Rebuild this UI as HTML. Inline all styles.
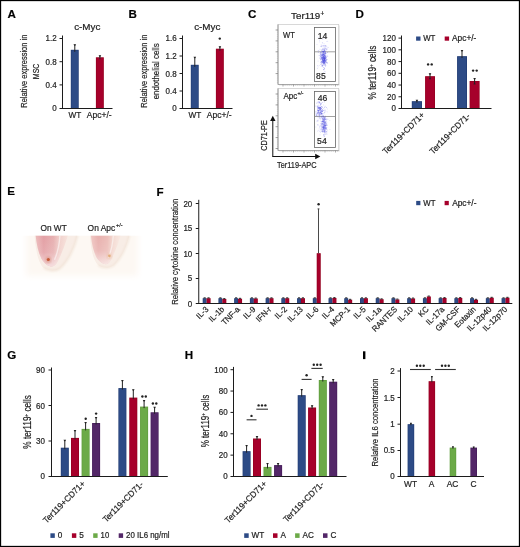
<!DOCTYPE html><html><head><meta charset="utf-8"><style>html,body{margin:0;padding:0;background:#fff;}svg{display:block;will-change:transform;}</style></head><body><svg width="520" height="547" viewBox="0 0 520 547" style="font-family:'Liberation Sans', sans-serif">
<style>text{stroke:#1e1e1e;stroke-width:0.2px;}</style>
<defs><linearGradient id="tube1" x1="0" y1="0" x2="1" y2="0"><stop offset="0" stop-color="#f6dcd8"/><stop offset="0.2" stop-color="#e8aaab"/><stop offset="0.45" stop-color="#e2a0a3"/><stop offset="0.7" stop-color="#f0cfcb"/><stop offset="1" stop-color="#fbefe9"/></linearGradient><linearGradient id="tube2" x1="0" y1="0" x2="1" y2="0"><stop offset="0" stop-color="#f8e2dc"/><stop offset="0.2" stop-color="#ecb7b4"/><stop offset="0.45" stop-color="#e9b2b0"/><stop offset="0.7" stop-color="#f3dad4"/><stop offset="1" stop-color="#fcf2ec"/></linearGradient><filter id="blur1"><feGaussianBlur stdDeviation="1.0"/></filter><filter id="blur2"><feGaussianBlur stdDeviation="3"/></filter><filter id="blur05"><feGaussianBlur stdDeviation="0.6"/></filter></defs>
<rect x="0" y="0" width="520" height="547" fill="#fff" />
<text x="11.6" y="18.1" font-size="11.6" text-anchor="middle" font-weight="bold" fill="#000" >A</text>
<text x="87.3" y="30.4" font-size="9.6" text-anchor="middle" fill="#1e1e1e" textLength="26.20" lengthAdjust="spacingAndGlyphs" >c-Myc</text>
<line x1="62.5" y1="35.5" x2="62.5" y2="109" stroke="#1c1c1c" stroke-width="1"/>
<line x1="59.5" y1="38.5" x2="62.5" y2="38.5" stroke="#1c1c1c" stroke-width="1"/>
<text x="56.6" y="41.4" font-size="8.6" text-anchor="end" fill="#1e1e1e" textLength="11.12" lengthAdjust="spacingAndGlyphs" >1.2</text>
<line x1="59.5" y1="61.7" x2="62.5" y2="61.7" stroke="#1c1c1c" stroke-width="1"/>
<text x="56.6" y="65.4" font-size="8.6" text-anchor="end" fill="#1e1e1e" textLength="11.12" lengthAdjust="spacingAndGlyphs" >0.8</text>
<line x1="59.5" y1="84.9" x2="62.5" y2="84.9" stroke="#1c1c1c" stroke-width="1"/>
<text x="56.6" y="88.4" font-size="8.6" text-anchor="end" fill="#1e1e1e" textLength="11.12" lengthAdjust="spacingAndGlyphs" >0.4</text>
<line x1="59.5" y1="108.5" x2="62.5" y2="108.5" stroke="#1c1c1c" stroke-width="1"/>
<text x="56.6" y="111.4" font-size="8.6" text-anchor="end" fill="#1e1e1e" textLength="4.45" lengthAdjust="spacingAndGlyphs" >0</text>
<line x1="62" y1="108.5" x2="112.5" y2="108.5" stroke="#1c1c1c" stroke-width="1"/>
<rect x="70.8" y="49.8" width="7.900000000000006" height="58.2" fill="#1f3a72" />
<rect x="71.39999999999999" y="50.4" width="6.7000000000000055" height="57.6" fill="#2d4b86" />
<rect x="95.9" y="57.3" width="7.8999999999999915" height="50.7" fill="#93001f" />
<rect x="96.5" y="57.9" width="6.699999999999991" height="50.1" fill="#a6002b" />
<line x1="74.8" y1="44.5" x2="74.8" y2="51.8" stroke="#222" stroke-width="1.0"/>
<polygon points="73.5,44.2 76.1,44.2 75.3,45.7 74.3,45.7" fill="#222"/>
<line x1="99.9" y1="55.6" x2="99.9" y2="59.3" stroke="#222" stroke-width="1.0"/>
<polygon points="98.60000000000001,55.300000000000004 101.2,55.300000000000004 100.4,56.800000000000004 99.4,56.800000000000004" fill="#222"/>
<text x="74.85" y="118" font-size="8.4" text-anchor="middle" fill="#1e1e1e" textLength="12.80" lengthAdjust="spacingAndGlyphs" >WT</text>
<text x="99.2" y="118" font-size="8.4" text-anchor="middle" fill="#1e1e1e" textLength="24.80" lengthAdjust="spacingAndGlyphs" >Apc+/-</text>
<text class="rt" transform="translate(27.2,71.2) rotate(-90)" x="0" y="0" font-size="9.2" text-anchor="middle" fill="#1e1e1e" textLength="73.00" lengthAdjust="spacingAndGlyphs">Relative expression in</text>
<text class="rt" transform="translate(39,71.4) rotate(-90)" x="0" y="0" font-size="9.2" text-anchor="middle" fill="#1e1e1e" textLength="15.60" lengthAdjust="spacingAndGlyphs">MSC</text>
<text x="132.6" y="18.1" font-size="11.6" text-anchor="middle" font-weight="bold" fill="#000" >B</text>
<text x="207.3" y="30.4" font-size="9.6" text-anchor="middle" fill="#1e1e1e" textLength="26.20" lengthAdjust="spacingAndGlyphs" >c-Myc</text>
<line x1="182.5" y1="35.5" x2="182.5" y2="109" stroke="#1c1c1c" stroke-width="1"/>
<line x1="179.5" y1="38.5" x2="182.5" y2="38.5" stroke="#1c1c1c" stroke-width="1"/>
<text x="176.6" y="41.4" font-size="8.6" text-anchor="end" fill="#1e1e1e" textLength="11.12" lengthAdjust="spacingAndGlyphs" >1.6</text>
<line x1="179.5" y1="56" x2="182.5" y2="56" stroke="#1c1c1c" stroke-width="1"/>
<text x="176.6" y="59.4" font-size="8.6" text-anchor="end" fill="#1e1e1e" textLength="11.12" lengthAdjust="spacingAndGlyphs" >1.2</text>
<line x1="179.5" y1="73.5" x2="182.5" y2="73.5" stroke="#1c1c1c" stroke-width="1"/>
<text x="176.6" y="77.4" font-size="8.6" text-anchor="end" fill="#1e1e1e" textLength="11.12" lengthAdjust="spacingAndGlyphs" >0.8</text>
<line x1="179.5" y1="91" x2="182.5" y2="91" stroke="#1c1c1c" stroke-width="1"/>
<text x="176.6" y="94.4" font-size="8.6" text-anchor="end" fill="#1e1e1e" textLength="11.12" lengthAdjust="spacingAndGlyphs" >0.4</text>
<line x1="179.5" y1="108.5" x2="182.5" y2="108.5" stroke="#1c1c1c" stroke-width="1"/>
<text x="176.6" y="111.4" font-size="8.6" text-anchor="end" fill="#1e1e1e" textLength="4.45" lengthAdjust="spacingAndGlyphs" >0</text>
<line x1="182" y1="108.5" x2="232.5" y2="108.5" stroke="#1c1c1c" stroke-width="1"/>
<rect x="190.8" y="64.8" width="7.899999999999977" height="43.2" fill="#1f3a72" />
<rect x="191.4" y="65.39999999999999" width="6.699999999999977" height="42.6" fill="#2d4b86" />
<rect x="215.9" y="48.7" width="7.900000000000006" height="59.3" fill="#93001f" />
<rect x="216.5" y="49.300000000000004" width="6.7000000000000055" height="58.699999999999996" fill="#a6002b" />
<line x1="194.8" y1="57.1" x2="194.8" y2="66.8" stroke="#222" stroke-width="1.0"/>
<polygon points="193.5,56.800000000000004 196.10000000000002,56.800000000000004 195.3,58.300000000000004 194.3,58.300000000000004" fill="#222"/>
<line x1="219.9" y1="46.6" x2="219.9" y2="50.7" stroke="#222" stroke-width="1.0"/>
<polygon points="218.6,46.300000000000004 221.20000000000002,46.300000000000004 220.4,47.800000000000004 219.4,47.800000000000004" fill="#222"/>
<text x="194.85" y="118" font-size="8.4" text-anchor="middle" fill="#1e1e1e" textLength="12.80" lengthAdjust="spacingAndGlyphs" >WT</text>
<text x="219.2" y="118" font-size="8.4" text-anchor="middle" fill="#1e1e1e" textLength="24.80" lengthAdjust="spacingAndGlyphs" >Apc+/-</text>
<text class="rt" transform="translate(147.2,71.2) rotate(-90)" x="0" y="0" font-size="9.2" text-anchor="middle" fill="#1e1e1e" textLength="73.00" lengthAdjust="spacingAndGlyphs">Relative expression in</text>
<text class="rt" transform="translate(159.2,71.3) rotate(-90)" x="0" y="0" font-size="9.2" text-anchor="middle" fill="#1e1e1e" textLength="56.00" lengthAdjust="spacingAndGlyphs">endothelial cells</text>
<circle cx="219.8" cy="38.6" r="1.2" fill="#222"/>
<text x="252.2" y="17.9" font-size="11.6" text-anchor="middle" font-weight="bold" fill="#000" >C</text>
<text x="291.1" y="18.7" font-size="9.6" fill="#1e1e1e" textLength="29.20" lengthAdjust="spacingAndGlyphs">Ter119</text>
<text x="322.4" y="15.8" font-size="6.4" text-anchor="middle" fill="#1e1e1e" >+</text>
<rect x="279" y="25.5" width="60.7" height="60.0" fill="#e6e6e6" />
<rect x="278" y="24.5" width="60.7" height="60.0" fill="#fff" stroke="#cfcfcf" stroke-width="0.8"/>
<line x1="278" y1="24.5" x2="278" y2="84.5" stroke="#888" stroke-width="0.8"/>
<line x1="278" y1="84.5" x2="338.7" y2="84.5" stroke="#999" stroke-width="0.8"/>
<line x1="275.6" y1="30.0" x2="278" y2="30.0" stroke="#777" stroke-width="0.7"/>
<line x1="276.9" y1="32.2" x2="278" y2="32.2" stroke="#aaa" stroke-width="0.5"/>
<line x1="276.9" y1="34.4" x2="278" y2="34.4" stroke="#aaa" stroke-width="0.5"/>
<line x1="276.9" y1="36.6" x2="278" y2="36.6" stroke="#aaa" stroke-width="0.5"/>
<line x1="276.9" y1="38.8" x2="278" y2="38.8" stroke="#aaa" stroke-width="0.5"/>
<line x1="275.6" y1="40.9" x2="278" y2="40.9" stroke="#777" stroke-width="0.7"/>
<line x1="276.9" y1="43.1" x2="278" y2="43.1" stroke="#aaa" stroke-width="0.5"/>
<line x1="276.9" y1="45.3" x2="278" y2="45.3" stroke="#aaa" stroke-width="0.5"/>
<line x1="276.9" y1="47.5" x2="278" y2="47.5" stroke="#aaa" stroke-width="0.5"/>
<line x1="276.9" y1="49.7" x2="278" y2="49.7" stroke="#aaa" stroke-width="0.5"/>
<line x1="275.6" y1="51.8" x2="278" y2="51.8" stroke="#777" stroke-width="0.7"/>
<line x1="276.9" y1="54.0" x2="278" y2="54.0" stroke="#aaa" stroke-width="0.5"/>
<line x1="276.9" y1="56.199999999999996" x2="278" y2="56.199999999999996" stroke="#aaa" stroke-width="0.5"/>
<line x1="276.9" y1="58.4" x2="278" y2="58.4" stroke="#aaa" stroke-width="0.5"/>
<line x1="276.9" y1="60.599999999999994" x2="278" y2="60.599999999999994" stroke="#aaa" stroke-width="0.5"/>
<line x1="275.6" y1="62.7" x2="278" y2="62.7" stroke="#777" stroke-width="0.7"/>
<line x1="276.9" y1="64.9" x2="278" y2="64.9" stroke="#aaa" stroke-width="0.5"/>
<line x1="276.9" y1="67.10000000000001" x2="278" y2="67.10000000000001" stroke="#aaa" stroke-width="0.5"/>
<line x1="276.9" y1="69.3" x2="278" y2="69.3" stroke="#aaa" stroke-width="0.5"/>
<line x1="276.9" y1="71.5" x2="278" y2="71.5" stroke="#aaa" stroke-width="0.5"/>
<line x1="275.6" y1="73.6" x2="278" y2="73.6" stroke="#777" stroke-width="0.7"/>
<line x1="276.9" y1="75.8" x2="278" y2="75.8" stroke="#aaa" stroke-width="0.5"/>
<line x1="276.9" y1="78.0" x2="278" y2="78.0" stroke="#aaa" stroke-width="0.5"/>
<line x1="276.9" y1="80.19999999999999" x2="278" y2="80.19999999999999" stroke="#aaa" stroke-width="0.5"/>
<line x1="276.9" y1="82.39999999999999" x2="278" y2="82.39999999999999" stroke="#aaa" stroke-width="0.5"/>
<line x1="283.0" y1="84.5" x2="283.0" y2="86.5" stroke="#777" stroke-width="0.6"/>
<line x1="285.1" y1="84.5" x2="285.1" y2="85.7" stroke="#aaa" stroke-width="0.5"/>
<line x1="287.2" y1="84.5" x2="287.2" y2="85.7" stroke="#aaa" stroke-width="0.5"/>
<line x1="289.3" y1="84.5" x2="289.3" y2="85.7" stroke="#aaa" stroke-width="0.5"/>
<line x1="291.4" y1="84.5" x2="291.4" y2="85.7" stroke="#aaa" stroke-width="0.5"/>
<line x1="293.5" y1="84.5" x2="293.5" y2="86.5" stroke="#777" stroke-width="0.6"/>
<line x1="295.6" y1="84.5" x2="295.6" y2="85.7" stroke="#aaa" stroke-width="0.5"/>
<line x1="297.7" y1="84.5" x2="297.7" y2="85.7" stroke="#aaa" stroke-width="0.5"/>
<line x1="299.8" y1="84.5" x2="299.8" y2="85.7" stroke="#aaa" stroke-width="0.5"/>
<line x1="301.9" y1="84.5" x2="301.9" y2="85.7" stroke="#aaa" stroke-width="0.5"/>
<line x1="304.0" y1="84.5" x2="304.0" y2="86.5" stroke="#777" stroke-width="0.6"/>
<line x1="306.1" y1="84.5" x2="306.1" y2="85.7" stroke="#aaa" stroke-width="0.5"/>
<line x1="308.2" y1="84.5" x2="308.2" y2="85.7" stroke="#aaa" stroke-width="0.5"/>
<line x1="310.3" y1="84.5" x2="310.3" y2="85.7" stroke="#aaa" stroke-width="0.5"/>
<line x1="312.4" y1="84.5" x2="312.4" y2="85.7" stroke="#aaa" stroke-width="0.5"/>
<line x1="314.5" y1="84.5" x2="314.5" y2="86.5" stroke="#777" stroke-width="0.6"/>
<line x1="316.6" y1="84.5" x2="316.6" y2="85.7" stroke="#aaa" stroke-width="0.5"/>
<line x1="318.7" y1="84.5" x2="318.7" y2="85.7" stroke="#aaa" stroke-width="0.5"/>
<line x1="320.8" y1="84.5" x2="320.8" y2="85.7" stroke="#aaa" stroke-width="0.5"/>
<line x1="322.9" y1="84.5" x2="322.9" y2="85.7" stroke="#aaa" stroke-width="0.5"/>
<line x1="325.0" y1="84.5" x2="325.0" y2="86.5" stroke="#777" stroke-width="0.6"/>
<line x1="327.1" y1="84.5" x2="327.1" y2="85.7" stroke="#aaa" stroke-width="0.5"/>
<line x1="329.2" y1="84.5" x2="329.2" y2="85.7" stroke="#aaa" stroke-width="0.5"/>
<line x1="331.3" y1="84.5" x2="331.3" y2="85.7" stroke="#aaa" stroke-width="0.5"/>
<line x1="333.4" y1="84.5" x2="333.4" y2="85.7" stroke="#aaa" stroke-width="0.5"/>
<line x1="335.5" y1="84.5" x2="335.5" y2="86.5" stroke="#777" stroke-width="0.6"/>
<line x1="337.6" y1="84.5" x2="337.6" y2="85.7" stroke="#aaa" stroke-width="0.5"/>
<rect x="314.5" y="27.5" width="21" height="54.0" fill="none" stroke="#666" stroke-width="0.8"/>
<line x1="314.5" y1="51.8" x2="335.5" y2="51.8" stroke="#8a8a8a" stroke-width="0.8"/>
<rect x="320.3" y="59.3" width="0.8" height="0.8" fill="#7a7af0" fill-opacity="0.3"/>
<rect x="322.2" y="54.8" width="0.8" height="0.8" fill="#7a7af0" fill-opacity="0.3"/>
<rect x="326.9" y="62.2" width="0.8" height="0.8" fill="#7a7af0" fill-opacity="0.3"/>
<rect x="322.3" y="59.1" width="0.8" height="0.8" fill="#7a7af0" fill-opacity="0.3"/>
<rect x="320.4" y="51.6" width="0.8" height="0.8" fill="#7a7af0" fill-opacity="0.3"/>
<rect x="317.1" y="68.1" width="0.8" height="0.8" fill="#7a7af0" fill-opacity="0.3"/>
<rect x="326.4" y="41.1" width="0.8" height="0.8" fill="#7a7af0" fill-opacity="0.3"/>
<rect x="317.8" y="37.4" width="0.8" height="0.8" fill="#7a7af0" fill-opacity="0.3"/>
<rect x="325.8" y="47.9" width="0.8" height="0.8" fill="#7a7af0" fill-opacity="0.3"/>
<rect x="322.1" y="49.2" width="0.8" height="0.8" fill="#7a7af0" fill-opacity="0.3"/>
<rect x="321.9" y="42.2" width="0.8" height="0.8" fill="#7a7af0" fill-opacity="0.3"/>
<rect x="322.4" y="39.1" width="0.8" height="0.8" fill="#7a7af0" fill-opacity="0.3"/>
<rect x="322.1" y="54.8" width="0.8" height="0.8" fill="#7a7af0" fill-opacity="0.3"/>
<rect x="323.7" y="49.9" width="0.8" height="0.8" fill="#7a7af0" fill-opacity="0.3"/>
<rect x="319.6" y="53.4" width="0.8" height="0.8" fill="#7a7af0" fill-opacity="0.3"/>
<rect x="320.8" y="66.1" width="0.8" height="0.8" fill="#7a7af0" fill-opacity="0.3"/>
<rect x="324.6" y="51.0" width="0.8" height="0.8" fill="#7a7af0" fill-opacity="0.3"/>
<rect x="320.9" y="45.7" width="0.8" height="0.8" fill="#7a7af0" fill-opacity="0.3"/>
<rect x="319.5" y="48.8" width="0.8" height="0.8" fill="#7a7af0" fill-opacity="0.3"/>
<rect x="323.2" y="56.6" width="0.8" height="0.8" fill="#7a7af0" fill-opacity="0.3"/>
<rect x="324.0" y="70.9" width="0.8" height="0.8" fill="#7a7af0" fill-opacity="0.3"/>
<rect x="320.2" y="52.1" width="0.8" height="0.8" fill="#7a7af0" fill-opacity="0.3"/>
<rect x="320.7" y="53.5" width="0.8" height="0.8" fill="#7a7af0" fill-opacity="0.3"/>
<rect x="322.8" y="55.7" width="0.8" height="0.8" fill="#7a7af0" fill-opacity="0.3"/>
<rect x="321.6" y="55.3" width="0.8" height="0.8" fill="#7a7af0" fill-opacity="0.3"/>
<rect x="322.5" y="58.9" width="0.8" height="0.8" fill="#7a7af0" fill-opacity="0.3"/>
<rect x="316.6" y="44.0" width="0.8" height="0.8" fill="#7a7af0" fill-opacity="0.3"/>
<rect x="322.3" y="42.7" width="0.8" height="0.8" fill="#7a7af0" fill-opacity="0.3"/>
<rect x="319.2" y="57.6" width="0.8" height="0.8" fill="#7a7af0" fill-opacity="0.3"/>
<rect x="320.4" y="57.7" width="0.8" height="0.8" fill="#7a7af0" fill-opacity="0.3"/>
<rect x="324.5" y="54.8" width="0.8" height="0.8" fill="#7a7af0" fill-opacity="0.3"/>
<rect x="323.8" y="51.1" width="0.8" height="0.8" fill="#7a7af0" fill-opacity="0.3"/>
<rect x="318.1" y="51.7" width="0.8" height="0.8" fill="#7a7af0" fill-opacity="0.3"/>
<rect x="323.7" y="47.2" width="0.8" height="0.8" fill="#7a7af0" fill-opacity="0.3"/>
<rect x="322.0" y="58.7" width="0.8" height="0.8" fill="#7a7af0" fill-opacity="0.3"/>
<rect x="319.7" y="57.8" width="0.8" height="0.8" fill="#7a7af0" fill-opacity="0.3"/>
<rect x="327.9" y="47.0" width="0.8" height="0.8" fill="#7a7af0" fill-opacity="0.3"/>
<rect x="322.7" y="50.6" width="0.8" height="0.8" fill="#7a7af0" fill-opacity="0.3"/>
<rect x="326.9" y="54.8" width="0.8" height="0.8" fill="#7a7af0" fill-opacity="0.3"/>
<rect x="325.0" y="45.8" width="0.8" height="0.8" fill="#7a7af0" fill-opacity="0.3"/>
<rect x="322.3" y="51.9" width="0.8" height="0.8" fill="#7a7af0" fill-opacity="0.3"/>
<rect x="317.0" y="65.0" width="0.8" height="0.8" fill="#7a7af0" fill-opacity="0.3"/>
<rect x="325.0" y="36.3" width="0.8" height="0.8" fill="#7a7af0" fill-opacity="0.3"/>
<rect x="324.5" y="50.8" width="0.8" height="0.8" fill="#7a7af0" fill-opacity="0.3"/>
<rect x="323.6" y="55.3" width="0.8" height="0.8" fill="#7a7af0" fill-opacity="0.3"/>
<rect x="317.8" y="50.1" width="0.8" height="0.8" fill="#7a7af0" fill-opacity="0.3"/>
<rect x="326.8" y="46.8" width="0.8" height="0.8" fill="#7a7af0" fill-opacity="0.3"/>
<rect x="319.2" y="39.8" width="0.8" height="0.8" fill="#7a7af0" fill-opacity="0.3"/>
<rect x="318.6" y="55.0" width="0.8" height="0.8" fill="#7a7af0" fill-opacity="0.3"/>
<rect x="327.4" y="55.9" width="0.8" height="0.8" fill="#7a7af0" fill-opacity="0.3"/>
<rect x="323.0" y="72.1" width="0.8" height="0.8" fill="#7a7af0" fill-opacity="0.3"/>
<rect x="320.7" y="45.9" width="0.8" height="0.8" fill="#7a7af0" fill-opacity="0.3"/>
<rect x="323.9" y="56.9" width="0.8" height="0.8" fill="#7a7af0" fill-opacity="0.3"/>
<rect x="319.3" y="41.5" width="0.8" height="0.8" fill="#7a7af0" fill-opacity="0.3"/>
<rect x="323.2" y="54.2" width="0.8" height="0.8" fill="#7a7af0" fill-opacity="0.3"/>
<rect x="318.4" y="50.2" width="0.8" height="0.8" fill="#7a7af0" fill-opacity="0.3"/>
<rect x="320.7" y="56.1" width="0.8" height="0.8" fill="#7a7af0" fill-opacity="0.3"/>
<rect x="321.9" y="51.2" width="0.8" height="0.8" fill="#7a7af0" fill-opacity="0.3"/>
<rect x="321.2" y="61.5" width="0.8" height="0.8" fill="#7a7af0" fill-opacity="0.3"/>
<rect x="326.5" y="48.7" width="0.8" height="0.8" fill="#7a7af0" fill-opacity="0.3"/>
<rect x="324.8" y="45.2" width="0.8" height="0.8" fill="#7a7af0" fill-opacity="0.3"/>
<rect x="322.5" y="58.7" width="0.8" height="0.8" fill="#7a7af0" fill-opacity="0.3"/>
<rect x="326.8" y="48.6" width="0.8" height="0.8" fill="#7a7af0" fill-opacity="0.3"/>
<rect x="322.1" y="53.8" width="0.8" height="0.8" fill="#7a7af0" fill-opacity="0.3"/>
<rect x="317.8" y="52.1" width="0.8" height="0.8" fill="#7a7af0" fill-opacity="0.3"/>
<rect x="320.3" y="55.3" width="0.8" height="0.8" fill="#7a7af0" fill-opacity="0.3"/>
<rect x="322.4" y="54.3" width="0.8" height="0.8" fill="#7a7af0" fill-opacity="0.3"/>
<rect x="320.7" y="60.0" width="0.8" height="0.8" fill="#7a7af0" fill-opacity="0.3"/>
<rect x="321.5" y="46.5" width="0.8" height="0.8" fill="#7a7af0" fill-opacity="0.3"/>
<rect x="323.7" y="37.9" width="0.8" height="0.8" fill="#7a7af0" fill-opacity="0.3"/>
<rect x="320.3" y="51.8" width="0.8" height="0.8" fill="#7a7af0" fill-opacity="0.3"/>
<rect x="324.8" y="50.5" width="0.8" height="0.8" fill="#7a7af0" fill-opacity="0.3"/>
<rect x="323.2" y="46.1" width="0.8" height="0.8" fill="#7a7af0" fill-opacity="0.3"/>
<rect x="323.2" y="67.0" width="0.8" height="0.8" fill="#7a7af0" fill-opacity="0.3"/>
<rect x="320.4" y="52.2" width="0.8" height="0.8" fill="#7a7af0" fill-opacity="0.3"/>
<rect x="322.8" y="61.2" width="0.8" height="0.8" fill="#7a7af0" fill-opacity="0.3"/>
<rect x="324.1" y="59.2" width="0.8" height="0.8" fill="#7a7af0" fill-opacity="0.3"/>
<rect x="322.9" y="54.3" width="0.8" height="0.8" fill="#7a7af0" fill-opacity="0.3"/>
<rect x="325.1" y="55.3" width="0.8" height="0.8" fill="#7a7af0" fill-opacity="0.3"/>
<rect x="327.3" y="40.9" width="0.8" height="0.8" fill="#7a7af0" fill-opacity="0.3"/>
<rect x="324.7" y="48.6" width="0.8" height="0.8" fill="#7a7af0" fill-opacity="0.3"/>
<rect x="325.1" y="71.4" width="0.8" height="0.8" fill="#7a7af0" fill-opacity="0.3"/>
<rect x="322.3" y="49.7" width="0.8" height="0.8" fill="#7a7af0" fill-opacity="0.3"/>
<rect x="320.8" y="44.5" width="0.8" height="0.8" fill="#7a7af0" fill-opacity="0.3"/>
<rect x="320.4" y="57.8" width="0.8" height="0.8" fill="#7a7af0" fill-opacity="0.3"/>
<rect x="322.4" y="52.6" width="0.8" height="0.8" fill="#7a7af0" fill-opacity="0.3"/>
<rect x="321.8" y="60.2" width="0.8" height="0.8" fill="#7a7af0" fill-opacity="0.3"/>
<rect x="323.8" y="50.7" width="0.8" height="0.8" fill="#7a7af0" fill-opacity="0.3"/>
<rect x="324.3" y="50.6" width="0.8" height="0.8" fill="#7a7af0" fill-opacity="0.3"/>
<rect x="318.8" y="65.1" width="0.8" height="0.8" fill="#7a7af0" fill-opacity="0.3"/>
<rect x="323.7" y="43.4" width="0.8" height="0.8" fill="#7a7af0" fill-opacity="0.3"/>
<rect x="325.5" y="55.1" width="0.8" height="0.8" fill="#7a7af0" fill-opacity="0.3"/>
<rect x="317.6" y="66.5" width="0.8" height="0.8" fill="#7a7af0" fill-opacity="0.3"/>
<rect x="323.3" y="60.0" width="0.8" height="0.8" fill="#7a7af0" fill-opacity="0.3"/>
<rect x="322.9" y="50.7" width="0.8" height="0.8" fill="#7a7af0" fill-opacity="0.3"/>
<rect x="317.7" y="60.7" width="0.8" height="0.8" fill="#7a7af0" fill-opacity="0.3"/>
<rect x="322.4" y="49.4" width="0.8" height="0.8" fill="#7a7af0" fill-opacity="0.3"/>
<rect x="323.4" y="52.7" width="0.8" height="0.8" fill="#7a7af0" fill-opacity="0.3"/>
<rect x="324.3" y="48.7" width="0.8" height="0.8" fill="#7a7af0" fill-opacity="0.3"/>
<rect x="321.0" y="58.1" width="0.8" height="0.8" fill="#7a7af0" fill-opacity="0.3"/>
<rect x="326.3" y="48.7" width="0.8" height="0.8" fill="#7a7af0" fill-opacity="0.3"/>
<rect x="321.9" y="66.3" width="0.8" height="0.8" fill="#7a7af0" fill-opacity="0.3"/>
<rect x="322.9" y="59.9" width="0.8" height="0.8" fill="#4848e0" fill-opacity="0.4"/>
<rect x="323.0" y="56.1" width="0.8" height="0.8" fill="#4848e0" fill-opacity="0.4"/>
<rect x="322.0" y="56.5" width="0.8" height="0.8" fill="#4848e0" fill-opacity="0.4"/>
<rect x="324.9" y="59.5" width="0.8" height="0.8" fill="#4848e0" fill-opacity="0.4"/>
<rect x="324.8" y="58.6" width="0.8" height="0.8" fill="#4848e0" fill-opacity="0.4"/>
<rect x="323.9" y="58.4" width="0.8" height="0.8" fill="#4848e0" fill-opacity="0.4"/>
<rect x="321.0" y="61.4" width="0.8" height="0.8" fill="#4848e0" fill-opacity="0.4"/>
<rect x="324.0" y="59.8" width="0.8" height="0.8" fill="#4848e0" fill-opacity="0.4"/>
<rect x="320.9" y="49.5" width="0.8" height="0.8" fill="#4848e0" fill-opacity="0.4"/>
<rect x="322.1" y="55.3" width="0.8" height="0.8" fill="#4848e0" fill-opacity="0.4"/>
<rect x="323.7" y="57.3" width="0.8" height="0.8" fill="#4848e0" fill-opacity="0.4"/>
<rect x="324.0" y="54.5" width="0.8" height="0.8" fill="#4848e0" fill-opacity="0.4"/>
<rect x="323.7" y="59.3" width="0.8" height="0.8" fill="#4848e0" fill-opacity="0.4"/>
<rect x="322.4" y="65.4" width="0.8" height="0.8" fill="#4848e0" fill-opacity="0.4"/>
<rect x="324.1" y="63.0" width="0.8" height="0.8" fill="#4848e0" fill-opacity="0.4"/>
<rect x="322.4" y="54.1" width="0.8" height="0.8" fill="#4848e0" fill-opacity="0.4"/>
<rect x="322.8" y="57.0" width="0.8" height="0.8" fill="#4848e0" fill-opacity="0.4"/>
<rect x="324.2" y="58.6" width="0.8" height="0.8" fill="#4848e0" fill-opacity="0.4"/>
<rect x="322.7" y="53.1" width="0.8" height="0.8" fill="#4848e0" fill-opacity="0.4"/>
<rect x="322.6" y="63.1" width="0.8" height="0.8" fill="#4848e0" fill-opacity="0.4"/>
<rect x="322.2" y="58.6" width="0.8" height="0.8" fill="#4848e0" fill-opacity="0.4"/>
<rect x="323.9" y="50.6" width="0.8" height="0.8" fill="#4848e0" fill-opacity="0.4"/>
<rect x="323.4" y="63.5" width="0.8" height="0.8" fill="#4848e0" fill-opacity="0.4"/>
<rect x="320.5" y="56.0" width="0.8" height="0.8" fill="#4848e0" fill-opacity="0.4"/>
<rect x="323.2" y="53.7" width="0.8" height="0.8" fill="#4848e0" fill-opacity="0.4"/>
<rect x="324.0" y="57.2" width="0.8" height="0.8" fill="#4848e0" fill-opacity="0.4"/>
<rect x="321.2" y="61.3" width="0.8" height="0.8" fill="#4848e0" fill-opacity="0.4"/>
<rect x="324.2" y="61.9" width="0.8" height="0.8" fill="#4848e0" fill-opacity="0.4"/>
<rect x="325.3" y="59.2" width="0.8" height="0.8" fill="#4848e0" fill-opacity="0.4"/>
<rect x="323.5" y="51.5" width="0.8" height="0.8" fill="#4848e0" fill-opacity="0.4"/>
<rect x="324.2" y="54.7" width="0.8" height="0.8" fill="#4848e0" fill-opacity="0.4"/>
<rect x="322.7" y="51.7" width="0.8" height="0.8" fill="#4848e0" fill-opacity="0.4"/>
<rect x="321.9" y="55.1" width="0.8" height="0.8" fill="#4848e0" fill-opacity="0.4"/>
<rect x="325.1" y="48.2" width="0.8" height="0.8" fill="#4848e0" fill-opacity="0.4"/>
<rect x="321.3" y="58.6" width="0.8" height="0.8" fill="#4848e0" fill-opacity="0.4"/>
<rect x="325.3" y="60.2" width="0.8" height="0.8" fill="#4848e0" fill-opacity="0.4"/>
<rect x="320.6" y="45.9" width="0.8" height="0.8" fill="#4848e0" fill-opacity="0.4"/>
<rect x="323.8" y="54.1" width="0.8" height="0.8" fill="#4848e0" fill-opacity="0.4"/>
<rect x="321.7" y="62.0" width="0.8" height="0.8" fill="#4848e0" fill-opacity="0.4"/>
<rect x="324.8" y="58.2" width="0.8" height="0.8" fill="#4848e0" fill-opacity="0.4"/>
<rect x="323.6" y="59.5" width="0.8" height="0.8" fill="#4848e0" fill-opacity="0.4"/>
<rect x="325.5" y="60.3" width="0.8" height="0.8" fill="#4848e0" fill-opacity="0.4"/>
<rect x="324.0" y="60.0" width="0.8" height="0.8" fill="#4848e0" fill-opacity="0.4"/>
<rect x="321.1" y="63.4" width="0.8" height="0.8" fill="#4848e0" fill-opacity="0.4"/>
<rect x="324.6" y="59.9" width="0.8" height="0.8" fill="#4848e0" fill-opacity="0.4"/>
<rect x="320.5" y="54.6" width="0.8" height="0.8" fill="#4848e0" fill-opacity="0.4"/>
<rect x="324.5" y="49.2" width="0.8" height="0.8" fill="#4848e0" fill-opacity="0.4"/>
<rect x="323.0" y="62.2" width="0.8" height="0.8" fill="#4848e0" fill-opacity="0.4"/>
<rect x="321.5" y="64.9" width="0.8" height="0.8" fill="#4848e0" fill-opacity="0.4"/>
<rect x="324.1" y="56.8" width="0.8" height="0.8" fill="#4848e0" fill-opacity="0.4"/>
<rect x="323.8" y="60.5" width="0.8" height="0.8" fill="#4848e0" fill-opacity="0.4"/>
<rect x="323.5" y="62.8" width="0.8" height="0.8" fill="#4848e0" fill-opacity="0.4"/>
<rect x="322.4" y="55.6" width="0.8" height="0.8" fill="#4848e0" fill-opacity="0.4"/>
<rect x="324.8" y="57.6" width="0.8" height="0.8" fill="#4848e0" fill-opacity="0.4"/>
<rect x="322.1" y="61.9" width="0.8" height="0.8" fill="#4848e0" fill-opacity="0.4"/>
<rect x="325.4" y="55.5" width="0.8" height="0.8" fill="#4848e0" fill-opacity="0.4"/>
<rect x="321.4" y="56.9" width="0.8" height="0.8" fill="#4848e0" fill-opacity="0.4"/>
<rect x="323.1" y="56.1" width="0.8" height="0.8" fill="#4848e0" fill-opacity="0.4"/>
<rect x="325.3" y="52.8" width="0.8" height="0.8" fill="#4848e0" fill-opacity="0.4"/>
<rect x="325.1" y="51.7" width="0.8" height="0.8" fill="#4848e0" fill-opacity="0.4"/>
<rect x="322.2" y="60.4" width="0.8" height="0.8" fill="#4848e0" fill-opacity="0.4"/>
<rect x="324.9" y="61.5" width="0.8" height="0.8" fill="#4848e0" fill-opacity="0.4"/>
<rect x="323.8" y="58.2" width="0.8" height="0.8" fill="#4848e0" fill-opacity="0.4"/>
<rect x="323.5" y="60.1" width="0.8" height="0.8" fill="#4848e0" fill-opacity="0.4"/>
<rect x="323.1" y="58.8" width="0.8" height="0.8" fill="#4848e0" fill-opacity="0.4"/>
<rect x="324.1" y="57.5" width="0.8" height="0.8" fill="#4848e0" fill-opacity="0.4"/>
<rect x="324.4" y="60.1" width="0.8" height="0.8" fill="#4848e0" fill-opacity="0.4"/>
<rect x="326.1" y="59.0" width="0.8" height="0.8" fill="#4848e0" fill-opacity="0.4"/>
<rect x="322.7" y="55.8" width="0.8" height="0.8" fill="#4848e0" fill-opacity="0.4"/>
<rect x="323.3" y="61.7" width="0.8" height="0.8" fill="#4848e0" fill-opacity="0.4"/>
<rect x="322.8" y="59.3" width="0.8" height="0.8" fill="#4848e0" fill-opacity="0.4"/>
<rect x="325.9" y="45.7" width="0.8" height="0.8" fill="#4848e0" fill-opacity="0.4"/>
<rect x="321.7" y="58.6" width="0.8" height="0.8" fill="#4848e0" fill-opacity="0.4"/>
<rect x="323.9" y="58.6" width="0.8" height="0.8" fill="#4848e0" fill-opacity="0.4"/>
<rect x="322.7" y="60.5" width="0.8" height="0.8" fill="#4848e0" fill-opacity="0.4"/>
<rect x="323.7" y="55.1" width="0.8" height="0.8" fill="#4848e0" fill-opacity="0.4"/>
<rect x="326.7" y="59.1" width="0.8" height="0.8" fill="#4848e0" fill-opacity="0.4"/>
<rect x="322.5" y="57.0" width="0.8" height="0.8" fill="#4848e0" fill-opacity="0.4"/>
<rect x="323.0" y="57.2" width="0.8" height="0.8" fill="#4848e0" fill-opacity="0.4"/>
<rect x="319.5" y="55.3" width="0.8" height="0.8" fill="#4848e0" fill-opacity="0.4"/>
<rect x="324.7" y="52.1" width="0.8" height="0.8" fill="#4848e0" fill-opacity="0.4"/>
<rect x="323.2" y="61.9" width="0.8" height="0.8" fill="#4848e0" fill-opacity="0.4"/>
<rect x="324.5" y="64.4" width="0.8" height="0.8" fill="#4848e0" fill-opacity="0.4"/>
<rect x="320.9" y="55.9" width="0.8" height="0.8" fill="#4848e0" fill-opacity="0.4"/>
<rect x="322.8" y="60.4" width="0.8" height="0.8" fill="#4848e0" fill-opacity="0.4"/>
<rect x="324.8" y="45.2" width="0.8" height="0.8" fill="#4848e0" fill-opacity="0.4"/>
<rect x="324.8" y="50.8" width="0.8" height="0.8" fill="#4848e0" fill-opacity="0.4"/>
<rect x="324.3" y="50.6" width="0.8" height="0.8" fill="#4848e0" fill-opacity="0.4"/>
<rect x="323.5" y="63.0" width="0.8" height="0.8" fill="#4848e0" fill-opacity="0.4"/>
<rect x="323.1" y="58.4" width="0.8" height="0.8" fill="#4848e0" fill-opacity="0.4"/>
<rect x="324.4" y="58.2" width="0.8" height="0.8" fill="#4848e0" fill-opacity="0.4"/>
<rect x="323.2" y="64.6" width="0.8" height="0.8" fill="#4848e0" fill-opacity="0.4"/>
<rect x="324.8" y="56.1" width="0.8" height="0.8" fill="#4848e0" fill-opacity="0.4"/>
<rect x="327.1" y="52.2" width="0.8" height="0.8" fill="#4848e0" fill-opacity="0.4"/>
<rect x="324.6" y="56.3" width="0.8" height="0.8" fill="#4848e0" fill-opacity="0.4"/>
<rect x="323.5" y="60.7" width="0.8" height="0.8" fill="#4848e0" fill-opacity="0.4"/>
<rect x="323.6" y="60.4" width="0.8" height="0.8" fill="#4848e0" fill-opacity="0.4"/>
<rect x="321.2" y="50.6" width="0.8" height="0.8" fill="#4848e0" fill-opacity="0.4"/>
<rect x="324.2" y="53.1" width="0.8" height="0.8" fill="#4848e0" fill-opacity="0.4"/>
<rect x="321.9" y="50.7" width="0.8" height="0.8" fill="#4848e0" fill-opacity="0.4"/>
<rect x="325.1" y="60.9" width="0.8" height="0.8" fill="#4848e0" fill-opacity="0.4"/>
<rect x="325.4" y="53.2" width="0.8" height="0.8" fill="#4848e0" fill-opacity="0.4"/>
<rect x="323.3" y="52.3" width="0.8" height="0.8" fill="#4848e0" fill-opacity="0.4"/>
<rect x="324.4" y="64.8" width="0.8" height="0.8" fill="#4848e0" fill-opacity="0.4"/>
<rect x="322.1" y="64.7" width="0.8" height="0.8" fill="#4848e0" fill-opacity="0.4"/>
<rect x="324.7" y="56.7" width="0.8" height="0.8" fill="#4848e0" fill-opacity="0.4"/>
<rect x="320.5" y="64.0" width="0.8" height="0.8" fill="#4848e0" fill-opacity="0.4"/>
<rect x="323.2" y="54.7" width="0.8" height="0.8" fill="#4848e0" fill-opacity="0.4"/>
<rect x="323.9" y="59.4" width="0.8" height="0.8" fill="#4848e0" fill-opacity="0.4"/>
<rect x="325.4" y="52.8" width="0.8" height="0.8" fill="#4848e0" fill-opacity="0.4"/>
<rect x="324.9" y="64.3" width="0.8" height="0.8" fill="#4848e0" fill-opacity="0.4"/>
<rect x="325.3" y="56.7" width="0.8" height="0.8" fill="#4848e0" fill-opacity="0.4"/>
<rect x="322.3" y="62.2" width="0.8" height="0.8" fill="#4848e0" fill-opacity="0.4"/>
<rect x="323.5" y="58.1" width="0.8" height="0.8" fill="#4848e0" fill-opacity="0.4"/>
<rect x="325.3" y="56.3" width="0.8" height="0.8" fill="#4848e0" fill-opacity="0.4"/>
<rect x="320.1" y="55.7" width="0.8" height="0.8" fill="#4848e0" fill-opacity="0.4"/>
<rect x="320.7" y="61.3" width="0.8" height="0.8" fill="#4848e0" fill-opacity="0.4"/>
<rect x="323.7" y="54.7" width="0.8" height="0.8" fill="#4848e0" fill-opacity="0.4"/>
<rect x="323.3" y="61.3" width="0.8" height="0.8" fill="#4848e0" fill-opacity="0.4"/>
<rect x="323.4" y="63.6" width="0.8" height="0.8" fill="#4848e0" fill-opacity="0.4"/>
<rect x="323.2" y="62.3" width="0.8" height="0.8" fill="#4848e0" fill-opacity="0.4"/>
<rect x="325.4" y="64.9" width="0.8" height="0.8" fill="#4848e0" fill-opacity="0.4"/>
<rect x="322.4" y="61.5" width="0.8" height="0.8" fill="#4848e0" fill-opacity="0.4"/>
<rect x="320.7" y="52.5" width="0.8" height="0.8" fill="#4848e0" fill-opacity="0.4"/>
<rect x="320.6" y="62.4" width="0.8" height="0.8" fill="#4848e0" fill-opacity="0.4"/>
<rect x="321.6" y="57.4" width="0.8" height="0.8" fill="#4848e0" fill-opacity="0.4"/>
<rect x="323.0" y="57.4" width="0.8" height="0.8" fill="#4848e0" fill-opacity="0.4"/>
<rect x="322.5" y="58.6" width="0.8" height="0.8" fill="#4848e0" fill-opacity="0.4"/>
<rect x="325.8" y="57.7" width="0.8" height="0.8" fill="#4848e0" fill-opacity="0.4"/>
<rect x="324.0" y="62.1" width="0.8" height="0.8" fill="#4848e0" fill-opacity="0.4"/>
<rect x="323.0" y="51.7" width="0.8" height="0.8" fill="#4848e0" fill-opacity="0.4"/>
<rect x="322.5" y="62.4" width="0.8" height="0.8" fill="#4848e0" fill-opacity="0.4"/>
<rect x="321.0" y="54.7" width="0.8" height="0.8" fill="#4848e0" fill-opacity="0.4"/>
<rect x="324.7" y="61.1" width="0.8" height="0.8" fill="#4848e0" fill-opacity="0.4"/>
<rect x="323.3" y="61.2" width="0.8" height="0.8" fill="#4848e0" fill-opacity="0.4"/>
<rect x="323.5" y="52.1" width="0.8" height="0.8" fill="#4848e0" fill-opacity="0.4"/>
<rect x="321.1" y="54.6" width="0.8" height="0.8" fill="#4848e0" fill-opacity="0.4"/>
<rect x="324.6" y="54.9" width="0.8" height="0.8" fill="#4848e0" fill-opacity="0.4"/>
<rect x="322.0" y="54.0" width="0.8" height="0.8" fill="#4848e0" fill-opacity="0.4"/>
<rect x="321.2" y="57.0" width="0.8" height="0.8" fill="#4848e0" fill-opacity="0.4"/>
<rect x="321.6" y="59.2" width="0.8" height="0.8" fill="#4848e0" fill-opacity="0.4"/>
<rect x="320.0" y="59.0" width="0.8" height="0.8" fill="#4848e0" fill-opacity="0.4"/>
<rect x="322.4" y="48.6" width="0.8" height="0.8" fill="#4848e0" fill-opacity="0.4"/>
<rect x="324.3" y="56.2" width="0.8" height="0.8" fill="#4848e0" fill-opacity="0.4"/>
<rect x="320.2" y="53.5" width="0.8" height="0.8" fill="#4848e0" fill-opacity="0.4"/>
<rect x="323.7" y="55.4" width="0.8" height="0.8" fill="#4848e0" fill-opacity="0.4"/>
<rect x="324.4" y="60.9" width="0.8" height="0.8" fill="#4848e0" fill-opacity="0.4"/>
<rect x="324.2" y="59.0" width="0.8" height="0.8" fill="#4848e0" fill-opacity="0.4"/>
<rect x="325.2" y="60.5" width="0.8" height="0.8" fill="#4848e0" fill-opacity="0.4"/>
<rect x="323.9" y="47.9" width="0.8" height="0.8" fill="#4848e0" fill-opacity="0.4"/>
<rect x="324.6" y="63.5" width="0.8" height="0.8" fill="#4848e0" fill-opacity="0.4"/>
<rect x="322.9" y="55.3" width="0.8" height="0.8" fill="#4848e0" fill-opacity="0.4"/>
<rect x="326.0" y="49.4" width="0.8" height="0.8" fill="#4848e0" fill-opacity="0.4"/>
<rect x="324.0" y="68.6" width="0.8" height="0.8" fill="#4848e0" fill-opacity="0.4"/>
<rect x="322.0" y="60.7" width="0.8" height="0.8" fill="#4848e0" fill-opacity="0.4"/>
<rect x="325.9" y="56.9" width="0.8" height="0.8" fill="#4848e0" fill-opacity="0.4"/>
<rect x="324.1" y="61.7" width="0.8" height="0.8" fill="#4848e0" fill-opacity="0.4"/>
<rect x="322.0" y="57.1" width="0.8" height="0.8" fill="#4848e0" fill-opacity="0.4"/>
<rect x="323.7" y="61.3" width="0.8" height="0.8" fill="#4848e0" fill-opacity="0.4"/>
<rect x="323.3" y="56.6" width="0.8" height="0.8" fill="#4848e0" fill-opacity="0.4"/>
<rect x="321.9" y="55.8" width="0.8" height="0.8" fill="#4848e0" fill-opacity="0.4"/>
<rect x="324.5" y="58.0" width="0.8" height="0.8" fill="#4848e0" fill-opacity="0.4"/>
<rect x="322.1" y="53.6" width="0.8" height="0.8" fill="#4848e0" fill-opacity="0.4"/>
<rect x="327.0" y="62.7" width="0.8" height="0.8" fill="#4848e0" fill-opacity="0.4"/>
<rect x="324.2" y="45.6" width="0.8" height="0.8" fill="#4848e0" fill-opacity="0.4"/>
<rect x="324.2" y="59.7" width="0.8" height="0.8" fill="#4848e0" fill-opacity="0.4"/>
<rect x="325.7" y="59.5" width="0.8" height="0.8" fill="#4848e0" fill-opacity="0.4"/>
<rect x="323.2" y="59.9" width="0.8" height="0.8" fill="#4848e0" fill-opacity="0.4"/>
<rect x="320.6" y="62.3" width="0.8" height="0.8" fill="#4848e0" fill-opacity="0.4"/>
<rect x="323.8" y="54.3" width="0.8" height="0.8" fill="#4848e0" fill-opacity="0.4"/>
<rect x="325.2" y="65.8" width="0.8" height="0.8" fill="#4848e0" fill-opacity="0.4"/>
<rect x="321.3" y="54.4" width="0.8" height="0.8" fill="#4848e0" fill-opacity="0.4"/>
<rect x="323.7" y="58.3" width="0.8" height="0.8" fill="#4848e0" fill-opacity="0.4"/>
<rect x="322.7" y="53.0" width="0.8" height="0.8" fill="#4848e0" fill-opacity="0.4"/>
<rect x="326.3" y="62.3" width="0.8" height="0.8" fill="#4848e0" fill-opacity="0.4"/>
<rect x="321.6" y="51.3" width="0.8" height="0.8" fill="#4848e0" fill-opacity="0.4"/>
<rect x="325.7" y="62.1" width="0.8" height="0.8" fill="#4848e0" fill-opacity="0.4"/>
<rect x="325.8" y="61.2" width="0.8" height="0.8" fill="#4848e0" fill-opacity="0.4"/>
<rect x="322.1" y="58.7" width="0.8" height="0.8" fill="#4848e0" fill-opacity="0.4"/>
<rect x="320.3" y="54.1" width="0.8" height="0.8" fill="#4848e0" fill-opacity="0.4"/>
<rect x="323.2" y="59.9" width="0.8" height="0.8" fill="#4848e0" fill-opacity="0.4"/>
<rect x="322.3" y="56.9" width="0.8" height="0.8" fill="#4848e0" fill-opacity="0.4"/>
<rect x="323.9" y="59.2" width="0.8" height="0.8" fill="#4848e0" fill-opacity="0.4"/>
<rect x="324.2" y="58.5" width="0.8" height="0.8" fill="#4848e0" fill-opacity="0.4"/>
<rect x="322.8" y="61.1" width="0.8" height="0.8" fill="#4848e0" fill-opacity="0.4"/>
<rect x="323.4" y="53.7" width="0.8" height="0.8" fill="#4848e0" fill-opacity="0.4"/>
<rect x="322.4" y="57.5" width="0.8" height="0.8" fill="#4848e0" fill-opacity="0.4"/>
<rect x="323.1" y="58.2" width="0.8" height="0.8" fill="#4848e0" fill-opacity="0.4"/>
<rect x="323.3" y="58.3" width="0.8" height="0.8" fill="#4848e0" fill-opacity="0.4"/>
<rect x="323.1" y="51.7" width="0.8" height="0.8" fill="#4848e0" fill-opacity="0.4"/>
<rect x="323.9" y="62.3" width="0.8" height="0.8" fill="#4848e0" fill-opacity="0.4"/>
<rect x="323.9" y="56.6" width="0.8" height="0.8" fill="#4848e0" fill-opacity="0.4"/>
<rect x="323.9" y="53.1" width="0.8" height="0.8" fill="#4848e0" fill-opacity="0.4"/>
<rect x="320.6" y="57.8" width="0.8" height="0.8" fill="#4848e0" fill-opacity="0.4"/>
<rect x="322.0" y="60.9" width="0.8" height="0.8" fill="#4848e0" fill-opacity="0.4"/>
<rect x="321.8" y="45.4" width="0.8" height="0.8" fill="#4848e0" fill-opacity="0.4"/>
<rect x="321.8" y="64.8" width="0.8" height="0.8" fill="#4848e0" fill-opacity="0.4"/>
<rect x="322.8" y="51.2" width="0.8" height="0.8" fill="#4848e0" fill-opacity="0.4"/>
<rect x="322.2" y="59.9" width="0.8" height="0.8" fill="#4848e0" fill-opacity="0.4"/>
<rect x="324.0" y="58.3" width="0.8" height="0.8" fill="#4848e0" fill-opacity="0.4"/>
<rect x="325.4" y="60.7" width="0.8" height="0.8" fill="#4848e0" fill-opacity="0.4"/>
<rect x="323.3" y="60.2" width="0.8" height="0.8" fill="#4848e0" fill-opacity="0.4"/>
<rect x="325.6" y="62.0" width="0.8" height="0.8" fill="#4848e0" fill-opacity="0.4"/>
<rect x="324.7" y="52.5" width="0.8" height="0.8" fill="#4848e0" fill-opacity="0.4"/>
<rect x="323.1" y="60.9" width="0.8" height="0.8" fill="#4848e0" fill-opacity="0.4"/>
<rect x="322.9" y="62.4" width="0.8" height="0.8" fill="#4848e0" fill-opacity="0.4"/>
<rect x="324.1" y="61.7" width="0.8" height="0.8" fill="#4848e0" fill-opacity="0.4"/>
<rect x="323.0" y="69.2" width="0.8" height="0.8" fill="#4848e0" fill-opacity="0.4"/>
<rect x="325.0" y="56.5" width="0.8" height="0.8" fill="#4848e0" fill-opacity="0.4"/>
<rect x="323.4" y="69.4" width="0.8" height="0.8" fill="#4848e0" fill-opacity="0.4"/>
<rect x="322.8" y="61.5" width="0.8" height="0.8" fill="#4848e0" fill-opacity="0.4"/>
<rect x="324.7" y="57.5" width="0.8" height="0.8" fill="#4848e0" fill-opacity="0.4"/>
<rect x="321.7" y="58.4" width="0.8" height="0.8" fill="#4848e0" fill-opacity="0.4"/>
<rect x="323.8" y="62.7" width="0.8" height="0.8" fill="#4848e0" fill-opacity="0.4"/>
<rect x="324.4" y="57.6" width="0.8" height="0.8" fill="#4848e0" fill-opacity="0.4"/>
<rect x="324.5" y="60.0" width="0.8" height="0.8" fill="#4848e0" fill-opacity="0.4"/>
<rect x="323.6" y="57.8" width="0.8" height="0.8" fill="#4848e0" fill-opacity="0.4"/>
<rect x="323.0" y="60.7" width="0.8" height="0.8" fill="#4848e0" fill-opacity="0.4"/>
<rect x="321.8" y="54.6" width="0.8" height="0.8" fill="#4848e0" fill-opacity="0.4"/>
<rect x="323.3" y="50.8" width="0.8" height="0.8" fill="#4848e0" fill-opacity="0.4"/>
<rect x="322.7" y="48.3" width="0.8" height="0.8" fill="#4848e0" fill-opacity="0.4"/>
<rect x="322.3" y="60.1" width="0.8" height="0.8" fill="#4848e0" fill-opacity="0.4"/>
<rect x="324.1" y="57.2" width="0.8" height="0.8" fill="#4848e0" fill-opacity="0.4"/>
<rect x="323.0" y="51.0" width="0.8" height="0.8" fill="#4848e0" fill-opacity="0.4"/>
<rect x="325.9" y="59.9" width="0.8" height="0.8" fill="#4848e0" fill-opacity="0.4"/>
<rect x="324.8" y="53.4" width="0.8" height="0.8" fill="#4848e0" fill-opacity="0.4"/>
<rect x="323.0" y="49.1" width="0.8" height="0.8" fill="#4848e0" fill-opacity="0.4"/>
<rect x="324.4" y="61.8" width="0.8" height="0.8" fill="#4848e0" fill-opacity="0.4"/>
<rect x="320.6" y="57.3" width="0.8" height="0.8" fill="#4848e0" fill-opacity="0.4"/>
<rect x="324.2" y="49.4" width="0.8" height="0.8" fill="#4848e0" fill-opacity="0.4"/>
<rect x="320.7" y="52.6" width="0.8" height="0.8" fill="#4848e0" fill-opacity="0.4"/>
<rect x="322.4" y="51.0" width="0.8" height="0.8" fill="#4848e0" fill-opacity="0.4"/>
<rect x="323.3" y="58.6" width="0.8" height="0.8" fill="#4848e0" fill-opacity="0.4"/>
<rect x="324.2" y="60.7" width="0.8" height="0.8" fill="#4848e0" fill-opacity="0.4"/>
<rect x="325.4" y="62.9" width="0.8" height="0.8" fill="#4848e0" fill-opacity="0.4"/>
<rect x="321.5" y="55.2" width="0.8" height="0.8" fill="#4848e0" fill-opacity="0.4"/>
<rect x="321.8" y="52.5" width="0.8" height="0.8" fill="#4848e0" fill-opacity="0.4"/>
<rect x="323.2" y="57.5" width="0.8" height="0.8" fill="#4848e0" fill-opacity="0.4"/>
<rect x="324.0" y="50.2" width="0.8" height="0.8" fill="#4848e0" fill-opacity="0.4"/>
<rect x="321.6" y="57.4" width="0.8" height="0.8" fill="#4848e0" fill-opacity="0.4"/>
<rect x="323.0" y="56.1" width="0.8" height="0.8" fill="#4848e0" fill-opacity="0.4"/>
<rect x="323.2" y="54.0" width="0.8" height="0.8" fill="#4848e0" fill-opacity="0.4"/>
<rect x="324.3" y="59.1" width="0.8" height="0.8" fill="#4848e0" fill-opacity="0.4"/>
<rect x="323.2" y="54.4" width="0.8" height="0.8" fill="#4848e0" fill-opacity="0.4"/>
<rect x="323.1" y="45.0" width="0.8" height="0.8" fill="#4848e0" fill-opacity="0.4"/>
<rect x="321.9" y="57.7" width="0.8" height="0.8" fill="#4848e0" fill-opacity="0.4"/>
<rect x="321.2" y="58.4" width="0.8" height="0.8" fill="#4848e0" fill-opacity="0.4"/>
<rect x="323.5" y="51.2" width="0.8" height="0.8" fill="#4848e0" fill-opacity="0.4"/>
<rect x="322.9" y="56.1" width="0.8" height="0.8" fill="#4848e0" fill-opacity="0.4"/>
<rect x="323.9" y="60.3" width="0.8" height="0.8" fill="#4848e0" fill-opacity="0.4"/>
<rect x="323.2" y="53.6" width="0.8" height="0.8" fill="#4848e0" fill-opacity="0.4"/>
<rect x="323.1" y="57.2" width="0.8" height="0.8" fill="#4848e0" fill-opacity="0.4"/>
<rect x="324.3" y="58.9" width="0.8" height="0.8" fill="#4848e0" fill-opacity="0.4"/>
<rect x="322.3" y="51.3" width="0.8" height="0.8" fill="#4848e0" fill-opacity="0.4"/>
<rect x="322.8" y="54.1" width="0.8" height="0.8" fill="#4848e0" fill-opacity="0.4"/>
<rect x="321.7" y="57.0" width="0.8" height="0.8" fill="#4848e0" fill-opacity="0.4"/>
<rect x="322.6" y="58.0" width="0.8" height="0.8" fill="#4848e0" fill-opacity="0.4"/>
<rect x="324.0" y="55.6" width="0.8" height="0.8" fill="#4848e0" fill-opacity="0.4"/>
<rect x="326.6" y="56.0" width="0.8" height="0.8" fill="#4848e0" fill-opacity="0.4"/>
<rect x="324.8" y="58.1" width="0.8" height="0.8" fill="#4848e0" fill-opacity="0.4"/>
<rect x="324.9" y="46.6" width="0.8" height="0.8" fill="#4848e0" fill-opacity="0.4"/>
<rect x="322.2" y="58.6" width="0.8" height="0.8" fill="#4848e0" fill-opacity="0.4"/>
<rect x="324.1" y="68.2" width="0.8" height="0.8" fill="#4848e0" fill-opacity="0.4"/>
<rect x="323.8" y="63.4" width="0.8" height="0.8" fill="#4848e0" fill-opacity="0.4"/>
<rect x="324.4" y="61.9" width="0.8" height="0.8" fill="#4848e0" fill-opacity="0.4"/>
<rect x="324.0" y="56.8" width="0.8" height="0.8" fill="#4848e0" fill-opacity="0.4"/>
<rect x="324.0" y="52.5" width="0.8" height="0.8" fill="#4848e0" fill-opacity="0.4"/>
<rect x="325.0" y="52.8" width="0.8" height="0.8" fill="#4848e0" fill-opacity="0.4"/>
<rect x="323.6" y="67.3" width="0.8" height="0.8" fill="#4848e0" fill-opacity="0.4"/>
<rect x="323.0" y="57.6" width="0.8" height="0.8" fill="#4848e0" fill-opacity="0.4"/>
<rect x="324.9" y="57.6" width="0.8" height="0.8" fill="#4848e0" fill-opacity="0.4"/>
<rect x="322.2" y="58.7" width="0.8" height="0.8" fill="#4848e0" fill-opacity="0.4"/>
<rect x="324.1" y="60.8" width="0.8" height="0.8" fill="#4848e0" fill-opacity="0.4"/>
<rect x="322.2" y="65.6" width="0.8" height="0.8" fill="#4848e0" fill-opacity="0.4"/>
<rect x="325.6" y="57.6" width="0.8" height="0.8" fill="#4848e0" fill-opacity="0.4"/>
<rect x="323.7" y="55.5" width="0.8" height="0.8" fill="#4848e0" fill-opacity="0.4"/>
<rect x="325.3" y="54.3" width="0.8" height="0.8" fill="#4848e0" fill-opacity="0.4"/>
<rect x="324.2" y="55.3" width="0.8" height="0.8" fill="#4848e0" fill-opacity="0.4"/>
<rect x="322.3" y="60.8" width="0.8" height="0.8" fill="#4848e0" fill-opacity="0.4"/>
<rect x="325.2" y="57.5" width="0.8" height="0.8" fill="#4848e0" fill-opacity="0.4"/>
<text x="322.6" y="39" font-size="8.8" text-anchor="middle" fill="#1e1e1e" textLength="9.60" lengthAdjust="spacingAndGlyphs" >14</text>
<text x="320.9" y="78.8" font-size="8.8" text-anchor="middle" fill="#1e1e1e" textLength="9.60" lengthAdjust="spacingAndGlyphs" >85</text>
<rect x="279" y="89.5" width="60.7" height="62.0" fill="#e6e6e6" />
<rect x="278" y="88.5" width="60.7" height="62.0" fill="#fff" stroke="#cfcfcf" stroke-width="0.8"/>
<line x1="278" y1="88.5" x2="278" y2="150.5" stroke="#888" stroke-width="0.8"/>
<line x1="278" y1="150.5" x2="338.7" y2="150.5" stroke="#999" stroke-width="0.8"/>
<line x1="275.6" y1="94.0" x2="278" y2="94.0" stroke="#777" stroke-width="0.7"/>
<line x1="276.9" y1="96.2" x2="278" y2="96.2" stroke="#aaa" stroke-width="0.5"/>
<line x1="276.9" y1="98.4" x2="278" y2="98.4" stroke="#aaa" stroke-width="0.5"/>
<line x1="276.9" y1="100.6" x2="278" y2="100.6" stroke="#aaa" stroke-width="0.5"/>
<line x1="276.9" y1="102.8" x2="278" y2="102.8" stroke="#aaa" stroke-width="0.5"/>
<line x1="275.6" y1="104.9" x2="278" y2="104.9" stroke="#777" stroke-width="0.7"/>
<line x1="276.9" y1="107.10000000000001" x2="278" y2="107.10000000000001" stroke="#aaa" stroke-width="0.5"/>
<line x1="276.9" y1="109.30000000000001" x2="278" y2="109.30000000000001" stroke="#aaa" stroke-width="0.5"/>
<line x1="276.9" y1="111.5" x2="278" y2="111.5" stroke="#aaa" stroke-width="0.5"/>
<line x1="276.9" y1="113.7" x2="278" y2="113.7" stroke="#aaa" stroke-width="0.5"/>
<line x1="275.6" y1="115.8" x2="278" y2="115.8" stroke="#777" stroke-width="0.7"/>
<line x1="276.9" y1="118.0" x2="278" y2="118.0" stroke="#aaa" stroke-width="0.5"/>
<line x1="276.9" y1="120.2" x2="278" y2="120.2" stroke="#aaa" stroke-width="0.5"/>
<line x1="276.9" y1="122.39999999999999" x2="278" y2="122.39999999999999" stroke="#aaa" stroke-width="0.5"/>
<line x1="276.9" y1="124.6" x2="278" y2="124.6" stroke="#aaa" stroke-width="0.5"/>
<line x1="275.6" y1="126.7" x2="278" y2="126.7" stroke="#777" stroke-width="0.7"/>
<line x1="276.9" y1="128.9" x2="278" y2="128.9" stroke="#aaa" stroke-width="0.5"/>
<line x1="276.9" y1="131.1" x2="278" y2="131.1" stroke="#aaa" stroke-width="0.5"/>
<line x1="276.9" y1="133.3" x2="278" y2="133.3" stroke="#aaa" stroke-width="0.5"/>
<line x1="276.9" y1="135.5" x2="278" y2="135.5" stroke="#aaa" stroke-width="0.5"/>
<line x1="275.6" y1="137.6" x2="278" y2="137.6" stroke="#777" stroke-width="0.7"/>
<line x1="276.9" y1="139.79999999999998" x2="278" y2="139.79999999999998" stroke="#aaa" stroke-width="0.5"/>
<line x1="276.9" y1="142.0" x2="278" y2="142.0" stroke="#aaa" stroke-width="0.5"/>
<line x1="276.9" y1="144.2" x2="278" y2="144.2" stroke="#aaa" stroke-width="0.5"/>
<line x1="276.9" y1="146.4" x2="278" y2="146.4" stroke="#aaa" stroke-width="0.5"/>
<line x1="275.6" y1="148.5" x2="278" y2="148.5" stroke="#777" stroke-width="0.7"/>
<line x1="283.0" y1="150.5" x2="283.0" y2="152.5" stroke="#777" stroke-width="0.6"/>
<line x1="285.1" y1="150.5" x2="285.1" y2="151.7" stroke="#aaa" stroke-width="0.5"/>
<line x1="287.2" y1="150.5" x2="287.2" y2="151.7" stroke="#aaa" stroke-width="0.5"/>
<line x1="289.3" y1="150.5" x2="289.3" y2="151.7" stroke="#aaa" stroke-width="0.5"/>
<line x1="291.4" y1="150.5" x2="291.4" y2="151.7" stroke="#aaa" stroke-width="0.5"/>
<line x1="293.5" y1="150.5" x2="293.5" y2="152.5" stroke="#777" stroke-width="0.6"/>
<line x1="295.6" y1="150.5" x2="295.6" y2="151.7" stroke="#aaa" stroke-width="0.5"/>
<line x1="297.7" y1="150.5" x2="297.7" y2="151.7" stroke="#aaa" stroke-width="0.5"/>
<line x1="299.8" y1="150.5" x2="299.8" y2="151.7" stroke="#aaa" stroke-width="0.5"/>
<line x1="301.9" y1="150.5" x2="301.9" y2="151.7" stroke="#aaa" stroke-width="0.5"/>
<line x1="304.0" y1="150.5" x2="304.0" y2="152.5" stroke="#777" stroke-width="0.6"/>
<line x1="306.1" y1="150.5" x2="306.1" y2="151.7" stroke="#aaa" stroke-width="0.5"/>
<line x1="308.2" y1="150.5" x2="308.2" y2="151.7" stroke="#aaa" stroke-width="0.5"/>
<line x1="310.3" y1="150.5" x2="310.3" y2="151.7" stroke="#aaa" stroke-width="0.5"/>
<line x1="312.4" y1="150.5" x2="312.4" y2="151.7" stroke="#aaa" stroke-width="0.5"/>
<line x1="314.5" y1="150.5" x2="314.5" y2="152.5" stroke="#777" stroke-width="0.6"/>
<line x1="316.6" y1="150.5" x2="316.6" y2="151.7" stroke="#aaa" stroke-width="0.5"/>
<line x1="318.7" y1="150.5" x2="318.7" y2="151.7" stroke="#aaa" stroke-width="0.5"/>
<line x1="320.8" y1="150.5" x2="320.8" y2="151.7" stroke="#aaa" stroke-width="0.5"/>
<line x1="322.9" y1="150.5" x2="322.9" y2="151.7" stroke="#aaa" stroke-width="0.5"/>
<line x1="325.0" y1="150.5" x2="325.0" y2="152.5" stroke="#777" stroke-width="0.6"/>
<line x1="327.1" y1="150.5" x2="327.1" y2="151.7" stroke="#aaa" stroke-width="0.5"/>
<line x1="329.2" y1="150.5" x2="329.2" y2="151.7" stroke="#aaa" stroke-width="0.5"/>
<line x1="331.3" y1="150.5" x2="331.3" y2="151.7" stroke="#aaa" stroke-width="0.5"/>
<line x1="333.4" y1="150.5" x2="333.4" y2="151.7" stroke="#aaa" stroke-width="0.5"/>
<line x1="335.5" y1="150.5" x2="335.5" y2="152.5" stroke="#777" stroke-width="0.6"/>
<line x1="337.6" y1="150.5" x2="337.6" y2="151.7" stroke="#aaa" stroke-width="0.5"/>
<rect x="314.5" y="91.5" width="21" height="56.0" fill="none" stroke="#666" stroke-width="0.8"/>
<line x1="314.5" y1="116.5" x2="335.5" y2="116.5" stroke="#8a8a8a" stroke-width="0.8"/>
<rect x="317.4" y="124.8" width="0.8" height="0.8" fill="#7a7af0" fill-opacity="0.3"/>
<rect x="319.9" y="109.2" width="0.8" height="0.8" fill="#7a7af0" fill-opacity="0.3"/>
<rect x="327.2" y="108.6" width="0.8" height="0.8" fill="#7a7af0" fill-opacity="0.3"/>
<rect x="327.1" y="125.2" width="0.8" height="0.8" fill="#7a7af0" fill-opacity="0.3"/>
<rect x="326.1" y="107.3" width="0.8" height="0.8" fill="#7a7af0" fill-opacity="0.3"/>
<rect x="325.3" y="134.0" width="0.8" height="0.8" fill="#7a7af0" fill-opacity="0.3"/>
<rect x="321.1" y="116.6" width="0.8" height="0.8" fill="#7a7af0" fill-opacity="0.3"/>
<rect x="329.4" y="120.0" width="0.8" height="0.8" fill="#7a7af0" fill-opacity="0.3"/>
<rect x="320.1" y="111.1" width="0.8" height="0.8" fill="#7a7af0" fill-opacity="0.3"/>
<rect x="322.9" y="121.6" width="0.8" height="0.8" fill="#7a7af0" fill-opacity="0.3"/>
<rect x="320.5" y="123.2" width="0.8" height="0.8" fill="#7a7af0" fill-opacity="0.3"/>
<rect x="326.2" y="107.0" width="0.8" height="0.8" fill="#7a7af0" fill-opacity="0.3"/>
<rect x="317.2" y="105.9" width="0.8" height="0.8" fill="#7a7af0" fill-opacity="0.3"/>
<rect x="323.1" y="134.0" width="0.8" height="0.8" fill="#7a7af0" fill-opacity="0.3"/>
<rect x="316.3" y="114.5" width="0.8" height="0.8" fill="#7a7af0" fill-opacity="0.3"/>
<rect x="315.4" y="126.6" width="0.8" height="0.8" fill="#7a7af0" fill-opacity="0.3"/>
<rect x="319.1" y="115.1" width="0.8" height="0.8" fill="#7a7af0" fill-opacity="0.3"/>
<rect x="321.7" y="124.0" width="0.8" height="0.8" fill="#7a7af0" fill-opacity="0.3"/>
<rect x="320.4" y="118.2" width="0.8" height="0.8" fill="#7a7af0" fill-opacity="0.3"/>
<rect x="319.8" y="119.3" width="0.8" height="0.8" fill="#7a7af0" fill-opacity="0.3"/>
<rect x="317.7" y="118.7" width="0.8" height="0.8" fill="#7a7af0" fill-opacity="0.3"/>
<rect x="315.3" y="112.6" width="0.8" height="0.8" fill="#7a7af0" fill-opacity="0.3"/>
<rect x="327.6" y="118.9" width="0.8" height="0.8" fill="#7a7af0" fill-opacity="0.3"/>
<rect x="317.5" y="120.8" width="0.8" height="0.8" fill="#7a7af0" fill-opacity="0.3"/>
<rect x="319.1" y="126.1" width="0.8" height="0.8" fill="#7a7af0" fill-opacity="0.3"/>
<rect x="322.7" y="116.9" width="0.8" height="0.8" fill="#7a7af0" fill-opacity="0.3"/>
<rect x="318.5" y="106.1" width="0.8" height="0.8" fill="#7a7af0" fill-opacity="0.3"/>
<rect x="325.8" y="120.7" width="0.8" height="0.8" fill="#7a7af0" fill-opacity="0.3"/>
<rect x="317.8" y="117.2" width="0.8" height="0.8" fill="#7a7af0" fill-opacity="0.3"/>
<rect x="322.2" y="116.3" width="0.8" height="0.8" fill="#7a7af0" fill-opacity="0.3"/>
<rect x="320.6" y="102.9" width="0.8" height="0.8" fill="#7a7af0" fill-opacity="0.3"/>
<rect x="319.1" y="127.3" width="0.8" height="0.8" fill="#7a7af0" fill-opacity="0.3"/>
<rect x="316.1" y="115.0" width="0.8" height="0.8" fill="#7a7af0" fill-opacity="0.3"/>
<rect x="322.3" y="129.4" width="0.8" height="0.8" fill="#7a7af0" fill-opacity="0.3"/>
<rect x="317.9" y="124.5" width="0.8" height="0.8" fill="#7a7af0" fill-opacity="0.3"/>
<rect x="322.7" y="109.9" width="0.8" height="0.8" fill="#7a7af0" fill-opacity="0.3"/>
<rect x="323.0" y="108.1" width="0.8" height="0.8" fill="#7a7af0" fill-opacity="0.3"/>
<rect x="319.0" y="117.8" width="0.8" height="0.8" fill="#7a7af0" fill-opacity="0.3"/>
<rect x="318.3" y="101.9" width="0.8" height="0.8" fill="#7a7af0" fill-opacity="0.3"/>
<rect x="320.1" y="126.4" width="0.8" height="0.8" fill="#7a7af0" fill-opacity="0.3"/>
<rect x="320.2" y="131.9" width="0.8" height="0.8" fill="#7a7af0" fill-opacity="0.3"/>
<rect x="317.8" y="103.6" width="0.8" height="0.8" fill="#7a7af0" fill-opacity="0.3"/>
<rect x="326.5" y="122.4" width="0.8" height="0.8" fill="#7a7af0" fill-opacity="0.3"/>
<rect x="324.5" y="108.9" width="0.8" height="0.8" fill="#7a7af0" fill-opacity="0.3"/>
<rect x="324.1" y="120.9" width="0.8" height="0.8" fill="#7a7af0" fill-opacity="0.3"/>
<rect x="323.6" y="118.3" width="0.8" height="0.8" fill="#7a7af0" fill-opacity="0.3"/>
<rect x="325.4" y="110.9" width="0.8" height="0.8" fill="#7a7af0" fill-opacity="0.3"/>
<rect x="318.4" y="101.7" width="0.8" height="0.8" fill="#7a7af0" fill-opacity="0.3"/>
<rect x="325.2" y="109.9" width="0.8" height="0.8" fill="#7a7af0" fill-opacity="0.3"/>
<rect x="318.2" y="107.7" width="0.8" height="0.8" fill="#7a7af0" fill-opacity="0.3"/>
<rect x="320.1" y="104.0" width="0.8" height="0.8" fill="#7a7af0" fill-opacity="0.3"/>
<rect x="320.6" y="111.1" width="0.8" height="0.8" fill="#7a7af0" fill-opacity="0.3"/>
<rect x="319.7" y="107.4" width="0.8" height="0.8" fill="#7a7af0" fill-opacity="0.3"/>
<rect x="321.6" y="112.9" width="0.8" height="0.8" fill="#7a7af0" fill-opacity="0.3"/>
<rect x="321.9" y="120.7" width="0.8" height="0.8" fill="#7a7af0" fill-opacity="0.3"/>
<rect x="319.8" y="109.2" width="0.8" height="0.8" fill="#7a7af0" fill-opacity="0.3"/>
<rect x="324.0" y="100.6" width="0.8" height="0.8" fill="#7a7af0" fill-opacity="0.3"/>
<rect x="319.2" y="114.8" width="0.8" height="0.8" fill="#7a7af0" fill-opacity="0.3"/>
<rect x="320.4" y="128.9" width="0.8" height="0.8" fill="#7a7af0" fill-opacity="0.3"/>
<rect x="320.1" y="128.6" width="0.8" height="0.8" fill="#7a7af0" fill-opacity="0.3"/>
<rect x="325.4" y="122.8" width="0.8" height="0.8" fill="#7a7af0" fill-opacity="0.3"/>
<rect x="323.1" y="119.4" width="0.8" height="0.8" fill="#7a7af0" fill-opacity="0.3"/>
<rect x="323.0" y="104.6" width="0.8" height="0.8" fill="#7a7af0" fill-opacity="0.3"/>
<rect x="324.5" y="112.1" width="0.8" height="0.8" fill="#7a7af0" fill-opacity="0.3"/>
<rect x="324.7" y="119.0" width="0.8" height="0.8" fill="#7a7af0" fill-opacity="0.3"/>
<rect x="325.1" y="116.5" width="0.8" height="0.8" fill="#7a7af0" fill-opacity="0.3"/>
<rect x="320.2" y="120.7" width="0.8" height="0.8" fill="#7a7af0" fill-opacity="0.3"/>
<rect x="320.1" y="112.0" width="0.8" height="0.8" fill="#7a7af0" fill-opacity="0.3"/>
<rect x="321.8" y="119.6" width="0.8" height="0.8" fill="#7a7af0" fill-opacity="0.3"/>
<rect x="326.4" y="118.5" width="0.8" height="0.8" fill="#7a7af0" fill-opacity="0.3"/>
<rect x="327.0" y="129.7" width="0.8" height="0.8" fill="#7a7af0" fill-opacity="0.3"/>
<rect x="321.9" y="119.5" width="0.8" height="0.8" fill="#7a7af0" fill-opacity="0.3"/>
<rect x="321.0" y="110.0" width="0.8" height="0.8" fill="#7a7af0" fill-opacity="0.3"/>
<rect x="321.3" y="111.0" width="0.8" height="0.8" fill="#7a7af0" fill-opacity="0.3"/>
<rect x="326.7" y="123.9" width="0.8" height="0.8" fill="#7a7af0" fill-opacity="0.3"/>
<rect x="321.3" y="113.4" width="0.8" height="0.8" fill="#7a7af0" fill-opacity="0.3"/>
<rect x="318.0" y="105.5" width="0.8" height="0.8" fill="#7a7af0" fill-opacity="0.3"/>
<rect x="321.4" y="116.4" width="0.8" height="0.8" fill="#7a7af0" fill-opacity="0.3"/>
<rect x="326.1" y="119.5" width="0.8" height="0.8" fill="#7a7af0" fill-opacity="0.3"/>
<rect x="322.0" y="113.9" width="0.8" height="0.8" fill="#7a7af0" fill-opacity="0.3"/>
<rect x="319.6" y="134.5" width="0.8" height="0.8" fill="#7a7af0" fill-opacity="0.3"/>
<rect x="320.4" y="118.3" width="0.8" height="0.8" fill="#7a7af0" fill-opacity="0.3"/>
<rect x="318.7" y="128.6" width="0.8" height="0.8" fill="#7a7af0" fill-opacity="0.3"/>
<rect x="317.0" y="124.2" width="0.8" height="0.8" fill="#7a7af0" fill-opacity="0.3"/>
<rect x="325.0" y="133.5" width="0.8" height="0.8" fill="#7a7af0" fill-opacity="0.3"/>
<rect x="318.5" y="130.0" width="0.8" height="0.8" fill="#7a7af0" fill-opacity="0.3"/>
<rect x="319.2" y="109.7" width="0.8" height="0.8" fill="#7a7af0" fill-opacity="0.3"/>
<rect x="317.3" y="130.7" width="0.8" height="0.8" fill="#7a7af0" fill-opacity="0.3"/>
<rect x="326.8" y="111.5" width="0.8" height="0.8" fill="#7a7af0" fill-opacity="0.3"/>
<rect x="319.1" y="114.3" width="0.8" height="0.8" fill="#7a7af0" fill-opacity="0.3"/>
<rect x="329.5" y="129.0" width="0.8" height="0.8" fill="#7a7af0" fill-opacity="0.3"/>
<rect x="319.3" y="131.1" width="0.8" height="0.8" fill="#7a7af0" fill-opacity="0.3"/>
<rect x="318.6" y="113.2" width="0.8" height="0.8" fill="#4848e0" fill-opacity="0.4"/>
<rect x="322.8" y="110.2" width="0.8" height="0.8" fill="#4848e0" fill-opacity="0.4"/>
<rect x="321.9" y="106.9" width="0.8" height="0.8" fill="#4848e0" fill-opacity="0.4"/>
<rect x="319.7" y="109.7" width="0.8" height="0.8" fill="#4848e0" fill-opacity="0.4"/>
<rect x="319.5" y="114.9" width="0.8" height="0.8" fill="#4848e0" fill-opacity="0.4"/>
<rect x="324.3" y="107.1" width="0.8" height="0.8" fill="#4848e0" fill-opacity="0.4"/>
<rect x="318.1" y="112.1" width="0.8" height="0.8" fill="#4848e0" fill-opacity="0.4"/>
<rect x="317.1" y="112.1" width="0.8" height="0.8" fill="#4848e0" fill-opacity="0.4"/>
<rect x="320.5" y="108.8" width="0.8" height="0.8" fill="#4848e0" fill-opacity="0.4"/>
<rect x="320.4" y="103.3" width="0.8" height="0.8" fill="#4848e0" fill-opacity="0.4"/>
<rect x="320.9" y="103.4" width="0.8" height="0.8" fill="#4848e0" fill-opacity="0.4"/>
<rect x="317.8" y="107.6" width="0.8" height="0.8" fill="#4848e0" fill-opacity="0.4"/>
<rect x="318.5" y="113.7" width="0.8" height="0.8" fill="#4848e0" fill-opacity="0.4"/>
<rect x="319.5" y="108.3" width="0.8" height="0.8" fill="#4848e0" fill-opacity="0.4"/>
<rect x="320.4" y="116.8" width="0.8" height="0.8" fill="#4848e0" fill-opacity="0.4"/>
<rect x="319.3" y="111.6" width="0.8" height="0.8" fill="#4848e0" fill-opacity="0.4"/>
<rect x="321.9" y="111.2" width="0.8" height="0.8" fill="#4848e0" fill-opacity="0.4"/>
<rect x="316.6" y="120.7" width="0.8" height="0.8" fill="#4848e0" fill-opacity="0.4"/>
<rect x="323.9" y="101.5" width="0.8" height="0.8" fill="#4848e0" fill-opacity="0.4"/>
<rect x="319.2" y="111.8" width="0.8" height="0.8" fill="#4848e0" fill-opacity="0.4"/>
<rect x="321.3" y="112.9" width="0.8" height="0.8" fill="#4848e0" fill-opacity="0.4"/>
<rect x="318.7" y="105.5" width="0.8" height="0.8" fill="#4848e0" fill-opacity="0.4"/>
<rect x="319.5" y="114.4" width="0.8" height="0.8" fill="#4848e0" fill-opacity="0.4"/>
<rect x="317.0" y="105.6" width="0.8" height="0.8" fill="#4848e0" fill-opacity="0.4"/>
<rect x="319.2" y="101.7" width="0.8" height="0.8" fill="#4848e0" fill-opacity="0.4"/>
<rect x="318.8" y="108.1" width="0.8" height="0.8" fill="#4848e0" fill-opacity="0.4"/>
<rect x="320.2" y="107.0" width="0.8" height="0.8" fill="#4848e0" fill-opacity="0.4"/>
<rect x="317.4" y="108.3" width="0.8" height="0.8" fill="#4848e0" fill-opacity="0.4"/>
<rect x="319.2" y="107.1" width="0.8" height="0.8" fill="#4848e0" fill-opacity="0.4"/>
<rect x="319.3" y="113.2" width="0.8" height="0.8" fill="#4848e0" fill-opacity="0.4"/>
<rect x="321.8" y="117.3" width="0.8" height="0.8" fill="#4848e0" fill-opacity="0.4"/>
<rect x="317.7" y="108.2" width="0.8" height="0.8" fill="#4848e0" fill-opacity="0.4"/>
<rect x="317.8" y="109.9" width="0.8" height="0.8" fill="#4848e0" fill-opacity="0.4"/>
<rect x="320.4" y="104.2" width="0.8" height="0.8" fill="#4848e0" fill-opacity="0.4"/>
<rect x="320.3" y="109.9" width="0.8" height="0.8" fill="#4848e0" fill-opacity="0.4"/>
<rect x="315.5" y="111.3" width="0.8" height="0.8" fill="#4848e0" fill-opacity="0.4"/>
<rect x="321.8" y="102.0" width="0.8" height="0.8" fill="#4848e0" fill-opacity="0.4"/>
<rect x="321.0" y="110.9" width="0.8" height="0.8" fill="#4848e0" fill-opacity="0.4"/>
<rect x="320.3" y="111.9" width="0.8" height="0.8" fill="#4848e0" fill-opacity="0.4"/>
<rect x="322.0" y="109.0" width="0.8" height="0.8" fill="#4848e0" fill-opacity="0.4"/>
<rect x="321.1" y="108.2" width="0.8" height="0.8" fill="#4848e0" fill-opacity="0.4"/>
<rect x="320.8" y="106.5" width="0.8" height="0.8" fill="#4848e0" fill-opacity="0.4"/>
<rect x="319.1" y="117.4" width="0.8" height="0.8" fill="#4848e0" fill-opacity="0.4"/>
<rect x="320.2" y="109.3" width="0.8" height="0.8" fill="#4848e0" fill-opacity="0.4"/>
<rect x="316.9" y="106.6" width="0.8" height="0.8" fill="#4848e0" fill-opacity="0.4"/>
<rect x="319.7" y="114.0" width="0.8" height="0.8" fill="#4848e0" fill-opacity="0.4"/>
<rect x="320.2" y="112.3" width="0.8" height="0.8" fill="#4848e0" fill-opacity="0.4"/>
<rect x="319.2" y="115.8" width="0.8" height="0.8" fill="#4848e0" fill-opacity="0.4"/>
<rect x="318.5" y="107.6" width="0.8" height="0.8" fill="#4848e0" fill-opacity="0.4"/>
<rect x="321.2" y="110.3" width="0.8" height="0.8" fill="#4848e0" fill-opacity="0.4"/>
<rect x="318.7" y="107.5" width="0.8" height="0.8" fill="#4848e0" fill-opacity="0.4"/>
<rect x="318.8" y="112.7" width="0.8" height="0.8" fill="#4848e0" fill-opacity="0.4"/>
<rect x="320.0" y="104.8" width="0.8" height="0.8" fill="#4848e0" fill-opacity="0.4"/>
<rect x="320.2" y="110.8" width="0.8" height="0.8" fill="#4848e0" fill-opacity="0.4"/>
<rect x="317.2" y="113.3" width="0.8" height="0.8" fill="#4848e0" fill-opacity="0.4"/>
<rect x="318.7" y="108.6" width="0.8" height="0.8" fill="#4848e0" fill-opacity="0.4"/>
<rect x="321.0" y="115.7" width="0.8" height="0.8" fill="#4848e0" fill-opacity="0.4"/>
<rect x="317.9" y="111.9" width="0.8" height="0.8" fill="#4848e0" fill-opacity="0.4"/>
<rect x="317.5" y="120.0" width="0.8" height="0.8" fill="#4848e0" fill-opacity="0.4"/>
<rect x="318.3" y="115.1" width="0.8" height="0.8" fill="#4848e0" fill-opacity="0.4"/>
<rect x="317.9" y="113.5" width="0.8" height="0.8" fill="#4848e0" fill-opacity="0.4"/>
<rect x="318.4" y="112.2" width="0.8" height="0.8" fill="#4848e0" fill-opacity="0.4"/>
<rect x="319.1" y="107.1" width="0.8" height="0.8" fill="#4848e0" fill-opacity="0.4"/>
<rect x="323.8" y="110.3" width="0.8" height="0.8" fill="#4848e0" fill-opacity="0.4"/>
<rect x="315.8" y="113.7" width="0.8" height="0.8" fill="#4848e0" fill-opacity="0.4"/>
<rect x="315.7" y="114.9" width="0.8" height="0.8" fill="#4848e0" fill-opacity="0.4"/>
<rect x="318.1" y="110.6" width="0.8" height="0.8" fill="#4848e0" fill-opacity="0.4"/>
<rect x="321.9" y="110.5" width="0.8" height="0.8" fill="#4848e0" fill-opacity="0.4"/>
<rect x="316.4" y="102.7" width="0.8" height="0.8" fill="#4848e0" fill-opacity="0.4"/>
<rect x="321.8" y="113.2" width="0.8" height="0.8" fill="#4848e0" fill-opacity="0.4"/>
<rect x="317.6" y="113.7" width="0.8" height="0.8" fill="#4848e0" fill-opacity="0.4"/>
<rect x="320.3" y="112.8" width="0.8" height="0.8" fill="#4848e0" fill-opacity="0.4"/>
<rect x="321.2" y="113.2" width="0.8" height="0.8" fill="#4848e0" fill-opacity="0.4"/>
<rect x="319.7" y="112.1" width="0.8" height="0.8" fill="#4848e0" fill-opacity="0.4"/>
<rect x="324.7" y="105.9" width="0.8" height="0.8" fill="#4848e0" fill-opacity="0.4"/>
<rect x="318.6" y="110.2" width="0.8" height="0.8" fill="#4848e0" fill-opacity="0.4"/>
<rect x="321.2" y="108.1" width="0.8" height="0.8" fill="#4848e0" fill-opacity="0.4"/>
<rect x="321.7" y="106.6" width="0.8" height="0.8" fill="#4848e0" fill-opacity="0.4"/>
<rect x="319.9" y="107.7" width="0.8" height="0.8" fill="#4848e0" fill-opacity="0.4"/>
<rect x="319.6" y="107.0" width="0.8" height="0.8" fill="#4848e0" fill-opacity="0.4"/>
<rect x="315.9" y="114.7" width="0.8" height="0.8" fill="#4848e0" fill-opacity="0.4"/>
<rect x="319.9" y="107.6" width="0.8" height="0.8" fill="#4848e0" fill-opacity="0.4"/>
<rect x="319.7" y="114.3" width="0.8" height="0.8" fill="#4848e0" fill-opacity="0.4"/>
<rect x="317.2" y="109.5" width="0.8" height="0.8" fill="#4848e0" fill-opacity="0.4"/>
<rect x="320.4" y="112.3" width="0.8" height="0.8" fill="#4848e0" fill-opacity="0.4"/>
<rect x="318.6" y="100.9" width="0.8" height="0.8" fill="#4848e0" fill-opacity="0.4"/>
<rect x="321.9" y="111.4" width="0.8" height="0.8" fill="#4848e0" fill-opacity="0.4"/>
<rect x="319.3" y="108.8" width="0.8" height="0.8" fill="#4848e0" fill-opacity="0.4"/>
<rect x="319.9" y="108.2" width="0.8" height="0.8" fill="#4848e0" fill-opacity="0.4"/>
<rect x="317.1" y="106.8" width="0.8" height="0.8" fill="#4848e0" fill-opacity="0.4"/>
<rect x="318.0" y="107.4" width="0.8" height="0.8" fill="#4848e0" fill-opacity="0.4"/>
<rect x="316.9" y="112.7" width="0.8" height="0.8" fill="#4848e0" fill-opacity="0.4"/>
<rect x="316.5" y="112.8" width="0.8" height="0.8" fill="#4848e0" fill-opacity="0.4"/>
<rect x="317.2" y="111.5" width="0.8" height="0.8" fill="#4848e0" fill-opacity="0.4"/>
<rect x="322.2" y="110.9" width="0.8" height="0.8" fill="#4848e0" fill-opacity="0.4"/>
<rect x="317.8" y="110.2" width="0.8" height="0.8" fill="#4848e0" fill-opacity="0.4"/>
<rect x="319.6" y="102.5" width="0.8" height="0.8" fill="#4848e0" fill-opacity="0.4"/>
<rect x="318.0" y="110.7" width="0.8" height="0.8" fill="#4848e0" fill-opacity="0.4"/>
<rect x="318.3" y="110.3" width="0.8" height="0.8" fill="#4848e0" fill-opacity="0.4"/>
<rect x="320.8" y="113.3" width="0.8" height="0.8" fill="#4848e0" fill-opacity="0.4"/>
<rect x="321.2" y="112.5" width="0.8" height="0.8" fill="#4848e0" fill-opacity="0.4"/>
<rect x="318.7" y="109.9" width="0.8" height="0.8" fill="#4848e0" fill-opacity="0.4"/>
<rect x="318.7" y="108.7" width="0.8" height="0.8" fill="#4848e0" fill-opacity="0.4"/>
<rect x="318.9" y="102.6" width="0.8" height="0.8" fill="#4848e0" fill-opacity="0.4"/>
<rect x="318.6" y="109.9" width="0.8" height="0.8" fill="#4848e0" fill-opacity="0.4"/>
<rect x="317.3" y="109.9" width="0.8" height="0.8" fill="#4848e0" fill-opacity="0.4"/>
<rect x="320.4" y="109.3" width="0.8" height="0.8" fill="#4848e0" fill-opacity="0.4"/>
<rect x="318.9" y="102.2" width="0.8" height="0.8" fill="#4848e0" fill-opacity="0.4"/>
<rect x="321.4" y="121.4" width="0.8" height="0.8" fill="#4848e0" fill-opacity="0.4"/>
<rect x="320.4" y="108.7" width="0.8" height="0.8" fill="#4848e0" fill-opacity="0.4"/>
<rect x="321.1" y="111.6" width="0.8" height="0.8" fill="#4848e0" fill-opacity="0.4"/>
<rect x="319.3" y="107.5" width="0.8" height="0.8" fill="#4848e0" fill-opacity="0.4"/>
<rect x="320.6" y="107.9" width="0.8" height="0.8" fill="#4848e0" fill-opacity="0.4"/>
<rect x="319.8" y="107.8" width="0.8" height="0.8" fill="#4848e0" fill-opacity="0.4"/>
<rect x="319.7" y="113.2" width="0.8" height="0.8" fill="#4848e0" fill-opacity="0.4"/>
<rect x="317.5" y="109.9" width="0.8" height="0.8" fill="#4848e0" fill-opacity="0.4"/>
<rect x="320.6" y="110.6" width="0.8" height="0.8" fill="#4848e0" fill-opacity="0.4"/>
<rect x="321.9" y="118.6" width="0.8" height="0.8" fill="#4848e0" fill-opacity="0.4"/>
<rect x="317.4" y="101.7" width="0.8" height="0.8" fill="#4848e0" fill-opacity="0.4"/>
<rect x="321.1" y="116.6" width="0.8" height="0.8" fill="#4848e0" fill-opacity="0.4"/>
<rect x="321.2" y="113.5" width="0.8" height="0.8" fill="#4848e0" fill-opacity="0.4"/>
<rect x="318.0" y="106.9" width="0.8" height="0.8" fill="#4848e0" fill-opacity="0.4"/>
<rect x="321.2" y="106.1" width="0.8" height="0.8" fill="#4848e0" fill-opacity="0.4"/>
<rect x="315.5" y="105.7" width="0.8" height="0.8" fill="#4848e0" fill-opacity="0.4"/>
<rect x="324.5" y="118.3" width="0.8" height="0.8" fill="#4848e0" fill-opacity="0.4"/>
<rect x="317.9" y="106.9" width="0.8" height="0.8" fill="#4848e0" fill-opacity="0.4"/>
<rect x="319.8" y="106.8" width="0.8" height="0.8" fill="#4848e0" fill-opacity="0.4"/>
<rect x="322.1" y="109.7" width="0.8" height="0.8" fill="#4848e0" fill-opacity="0.4"/>
<rect x="317.0" y="115.6" width="0.8" height="0.8" fill="#4848e0" fill-opacity="0.4"/>
<rect x="318.1" y="111.0" width="0.8" height="0.8" fill="#4848e0" fill-opacity="0.4"/>
<rect x="319.3" y="108.6" width="0.8" height="0.8" fill="#4848e0" fill-opacity="0.4"/>
<rect x="320.0" y="107.0" width="0.8" height="0.8" fill="#4848e0" fill-opacity="0.4"/>
<rect x="321.0" y="114.3" width="0.8" height="0.8" fill="#4848e0" fill-opacity="0.4"/>
<rect x="321.8" y="121.0" width="0.8" height="0.8" fill="#4848e0" fill-opacity="0.4"/>
<rect x="323.6" y="124.8" width="0.8" height="0.8" fill="#4848e0" fill-opacity="0.4"/>
<rect x="324.4" y="125.1" width="0.8" height="0.8" fill="#4848e0" fill-opacity="0.4"/>
<rect x="322.5" y="121.2" width="0.8" height="0.8" fill="#4848e0" fill-opacity="0.4"/>
<rect x="320.6" y="123.7" width="0.8" height="0.8" fill="#4848e0" fill-opacity="0.4"/>
<rect x="324.3" y="126.9" width="0.8" height="0.8" fill="#4848e0" fill-opacity="0.4"/>
<rect x="323.4" y="123.7" width="0.8" height="0.8" fill="#4848e0" fill-opacity="0.4"/>
<rect x="324.9" y="124.6" width="0.8" height="0.8" fill="#4848e0" fill-opacity="0.4"/>
<rect x="324.6" y="127.2" width="0.8" height="0.8" fill="#4848e0" fill-opacity="0.4"/>
<rect x="323.9" y="130.5" width="0.8" height="0.8" fill="#4848e0" fill-opacity="0.4"/>
<rect x="322.8" y="122.8" width="0.8" height="0.8" fill="#4848e0" fill-opacity="0.4"/>
<rect x="322.5" y="120.8" width="0.8" height="0.8" fill="#4848e0" fill-opacity="0.4"/>
<rect x="325.8" y="132.6" width="0.8" height="0.8" fill="#4848e0" fill-opacity="0.4"/>
<rect x="323.6" y="127.1" width="0.8" height="0.8" fill="#4848e0" fill-opacity="0.4"/>
<rect x="325.2" y="128.2" width="0.8" height="0.8" fill="#4848e0" fill-opacity="0.4"/>
<rect x="325.3" y="118.7" width="0.8" height="0.8" fill="#4848e0" fill-opacity="0.4"/>
<rect x="322.7" y="126.6" width="0.8" height="0.8" fill="#4848e0" fill-opacity="0.4"/>
<rect x="325.6" y="125.0" width="0.8" height="0.8" fill="#4848e0" fill-opacity="0.4"/>
<rect x="322.4" y="122.9" width="0.8" height="0.8" fill="#4848e0" fill-opacity="0.4"/>
<rect x="322.7" y="120.6" width="0.8" height="0.8" fill="#4848e0" fill-opacity="0.4"/>
<rect x="325.7" y="121.6" width="0.8" height="0.8" fill="#4848e0" fill-opacity="0.4"/>
<rect x="323.6" y="134.4" width="0.8" height="0.8" fill="#4848e0" fill-opacity="0.4"/>
<rect x="325.3" y="126.0" width="0.8" height="0.8" fill="#4848e0" fill-opacity="0.4"/>
<rect x="322.7" y="126.4" width="0.8" height="0.8" fill="#4848e0" fill-opacity="0.4"/>
<rect x="325.9" y="127.4" width="0.8" height="0.8" fill="#4848e0" fill-opacity="0.4"/>
<rect x="325.4" y="125.0" width="0.8" height="0.8" fill="#4848e0" fill-opacity="0.4"/>
<rect x="324.3" y="123.6" width="0.8" height="0.8" fill="#4848e0" fill-opacity="0.4"/>
<rect x="324.2" y="130.5" width="0.8" height="0.8" fill="#4848e0" fill-opacity="0.4"/>
<rect x="321.6" y="124.2" width="0.8" height="0.8" fill="#4848e0" fill-opacity="0.4"/>
<rect x="323.9" y="121.9" width="0.8" height="0.8" fill="#4848e0" fill-opacity="0.4"/>
<rect x="323.2" y="128.1" width="0.8" height="0.8" fill="#4848e0" fill-opacity="0.4"/>
<rect x="326.4" y="127.4" width="0.8" height="0.8" fill="#4848e0" fill-opacity="0.4"/>
<rect x="324.1" y="117.4" width="0.8" height="0.8" fill="#4848e0" fill-opacity="0.4"/>
<rect x="326.3" y="124.9" width="0.8" height="0.8" fill="#4848e0" fill-opacity="0.4"/>
<rect x="323.6" y="119.4" width="0.8" height="0.8" fill="#4848e0" fill-opacity="0.4"/>
<rect x="323.5" y="119.5" width="0.8" height="0.8" fill="#4848e0" fill-opacity="0.4"/>
<rect x="323.7" y="126.6" width="0.8" height="0.8" fill="#4848e0" fill-opacity="0.4"/>
<rect x="323.6" y="125.8" width="0.8" height="0.8" fill="#4848e0" fill-opacity="0.4"/>
<rect x="322.4" y="131.1" width="0.8" height="0.8" fill="#4848e0" fill-opacity="0.4"/>
<rect x="322.7" y="116.1" width="0.8" height="0.8" fill="#4848e0" fill-opacity="0.4"/>
<rect x="323.3" y="121.0" width="0.8" height="0.8" fill="#4848e0" fill-opacity="0.4"/>
<rect x="322.2" y="122.9" width="0.8" height="0.8" fill="#4848e0" fill-opacity="0.4"/>
<rect x="324.0" y="119.1" width="0.8" height="0.8" fill="#4848e0" fill-opacity="0.4"/>
<rect x="323.4" y="131.1" width="0.8" height="0.8" fill="#4848e0" fill-opacity="0.4"/>
<rect x="324.6" y="123.8" width="0.8" height="0.8" fill="#4848e0" fill-opacity="0.4"/>
<rect x="323.8" y="123.9" width="0.8" height="0.8" fill="#4848e0" fill-opacity="0.4"/>
<rect x="323.5" y="127.9" width="0.8" height="0.8" fill="#4848e0" fill-opacity="0.4"/>
<rect x="323.5" y="113.4" width="0.8" height="0.8" fill="#4848e0" fill-opacity="0.4"/>
<rect x="323.6" y="120.4" width="0.8" height="0.8" fill="#4848e0" fill-opacity="0.4"/>
<rect x="324.5" y="121.7" width="0.8" height="0.8" fill="#4848e0" fill-opacity="0.4"/>
<rect x="323.8" y="134.5" width="0.8" height="0.8" fill="#4848e0" fill-opacity="0.4"/>
<rect x="322.1" y="119.3" width="0.8" height="0.8" fill="#4848e0" fill-opacity="0.4"/>
<rect x="321.6" y="113.5" width="0.8" height="0.8" fill="#4848e0" fill-opacity="0.4"/>
<rect x="321.0" y="126.2" width="0.8" height="0.8" fill="#4848e0" fill-opacity="0.4"/>
<rect x="322.7" y="115.9" width="0.8" height="0.8" fill="#4848e0" fill-opacity="0.4"/>
<rect x="321.5" y="127.3" width="0.8" height="0.8" fill="#4848e0" fill-opacity="0.4"/>
<rect x="322.5" y="122.8" width="0.8" height="0.8" fill="#4848e0" fill-opacity="0.4"/>
<rect x="324.1" y="130.7" width="0.8" height="0.8" fill="#4848e0" fill-opacity="0.4"/>
<rect x="326.3" y="129.2" width="0.8" height="0.8" fill="#4848e0" fill-opacity="0.4"/>
<rect x="323.8" y="125.3" width="0.8" height="0.8" fill="#4848e0" fill-opacity="0.4"/>
<rect x="326.1" y="131.1" width="0.8" height="0.8" fill="#4848e0" fill-opacity="0.4"/>
<rect x="323.2" y="126.6" width="0.8" height="0.8" fill="#4848e0" fill-opacity="0.4"/>
<rect x="324.0" y="124.7" width="0.8" height="0.8" fill="#4848e0" fill-opacity="0.4"/>
<rect x="322.9" y="118.4" width="0.8" height="0.8" fill="#4848e0" fill-opacity="0.4"/>
<rect x="322.9" y="117.4" width="0.8" height="0.8" fill="#4848e0" fill-opacity="0.4"/>
<rect x="325.3" y="127.0" width="0.8" height="0.8" fill="#4848e0" fill-opacity="0.4"/>
<rect x="321.9" y="130.9" width="0.8" height="0.8" fill="#4848e0" fill-opacity="0.4"/>
<rect x="324.8" y="115.7" width="0.8" height="0.8" fill="#4848e0" fill-opacity="0.4"/>
<rect x="326.2" y="128.2" width="0.8" height="0.8" fill="#4848e0" fill-opacity="0.4"/>
<rect x="326.5" y="118.8" width="0.8" height="0.8" fill="#4848e0" fill-opacity="0.4"/>
<rect x="324.3" y="126.4" width="0.8" height="0.8" fill="#4848e0" fill-opacity="0.4"/>
<rect x="323.9" y="125.3" width="0.8" height="0.8" fill="#4848e0" fill-opacity="0.4"/>
<rect x="325.1" y="117.6" width="0.8" height="0.8" fill="#4848e0" fill-opacity="0.4"/>
<rect x="321.9" y="118.1" width="0.8" height="0.8" fill="#4848e0" fill-opacity="0.4"/>
<rect x="322.8" y="121.7" width="0.8" height="0.8" fill="#4848e0" fill-opacity="0.4"/>
<rect x="324.1" y="125.7" width="0.8" height="0.8" fill="#4848e0" fill-opacity="0.4"/>
<rect x="323.6" y="121.4" width="0.8" height="0.8" fill="#4848e0" fill-opacity="0.4"/>
<rect x="323.0" y="128.9" width="0.8" height="0.8" fill="#4848e0" fill-opacity="0.4"/>
<rect x="324.7" y="125.0" width="0.8" height="0.8" fill="#4848e0" fill-opacity="0.4"/>
<rect x="323.1" y="131.6" width="0.8" height="0.8" fill="#4848e0" fill-opacity="0.4"/>
<rect x="322.8" y="127.5" width="0.8" height="0.8" fill="#4848e0" fill-opacity="0.4"/>
<rect x="325.2" y="123.3" width="0.8" height="0.8" fill="#4848e0" fill-opacity="0.4"/>
<rect x="324.8" y="119.4" width="0.8" height="0.8" fill="#4848e0" fill-opacity="0.4"/>
<rect x="325.0" y="125.4" width="0.8" height="0.8" fill="#4848e0" fill-opacity="0.4"/>
<rect x="321.4" y="127.6" width="0.8" height="0.8" fill="#4848e0" fill-opacity="0.4"/>
<rect x="322.4" y="130.4" width="0.8" height="0.8" fill="#4848e0" fill-opacity="0.4"/>
<rect x="322.6" y="123.7" width="0.8" height="0.8" fill="#4848e0" fill-opacity="0.4"/>
<rect x="324.0" y="123.0" width="0.8" height="0.8" fill="#4848e0" fill-opacity="0.4"/>
<rect x="324.0" y="122.0" width="0.8" height="0.8" fill="#4848e0" fill-opacity="0.4"/>
<rect x="324.5" y="124.5" width="0.8" height="0.8" fill="#4848e0" fill-opacity="0.4"/>
<rect x="323.9" y="111.8" width="0.8" height="0.8" fill="#4848e0" fill-opacity="0.4"/>
<rect x="325.2" y="124.6" width="0.8" height="0.8" fill="#4848e0" fill-opacity="0.4"/>
<rect x="321.1" y="124.9" width="0.8" height="0.8" fill="#4848e0" fill-opacity="0.4"/>
<rect x="324.3" y="129.4" width="0.8" height="0.8" fill="#4848e0" fill-opacity="0.4"/>
<rect x="322.1" y="131.6" width="0.8" height="0.8" fill="#4848e0" fill-opacity="0.4"/>
<rect x="323.4" y="135.5" width="0.8" height="0.8" fill="#4848e0" fill-opacity="0.4"/>
<rect x="323.4" y="127.6" width="0.8" height="0.8" fill="#4848e0" fill-opacity="0.4"/>
<rect x="323.1" y="119.4" width="0.8" height="0.8" fill="#4848e0" fill-opacity="0.4"/>
<rect x="325.1" y="128.7" width="0.8" height="0.8" fill="#4848e0" fill-opacity="0.4"/>
<rect x="325.8" y="128.4" width="0.8" height="0.8" fill="#4848e0" fill-opacity="0.4"/>
<rect x="322.8" y="116.9" width="0.8" height="0.8" fill="#4848e0" fill-opacity="0.4"/>
<rect x="322.7" y="121.4" width="0.8" height="0.8" fill="#4848e0" fill-opacity="0.4"/>
<rect x="322.5" y="127.2" width="0.8" height="0.8" fill="#4848e0" fill-opacity="0.4"/>
<rect x="324.1" y="123.3" width="0.8" height="0.8" fill="#4848e0" fill-opacity="0.4"/>
<rect x="323.8" y="123.8" width="0.8" height="0.8" fill="#4848e0" fill-opacity="0.4"/>
<rect x="323.9" y="128.0" width="0.8" height="0.8" fill="#4848e0" fill-opacity="0.4"/>
<rect x="324.9" y="121.3" width="0.8" height="0.8" fill="#4848e0" fill-opacity="0.4"/>
<rect x="321.5" y="131.1" width="0.8" height="0.8" fill="#4848e0" fill-opacity="0.4"/>
<rect x="323.8" y="129.6" width="0.8" height="0.8" fill="#4848e0" fill-opacity="0.4"/>
<rect x="321.3" y="123.0" width="0.8" height="0.8" fill="#4848e0" fill-opacity="0.4"/>
<rect x="323.6" y="117.9" width="0.8" height="0.8" fill="#4848e0" fill-opacity="0.4"/>
<rect x="322.9" y="127.8" width="0.8" height="0.8" fill="#4848e0" fill-opacity="0.4"/>
<rect x="325.1" y="131.8" width="0.8" height="0.8" fill="#4848e0" fill-opacity="0.4"/>
<rect x="322.4" y="118.1" width="0.8" height="0.8" fill="#4848e0" fill-opacity="0.4"/>
<rect x="324.3" y="128.8" width="0.8" height="0.8" fill="#4848e0" fill-opacity="0.4"/>
<rect x="323.9" y="118.5" width="0.8" height="0.8" fill="#4848e0" fill-opacity="0.4"/>
<rect x="324.7" y="128.1" width="0.8" height="0.8" fill="#4848e0" fill-opacity="0.4"/>
<rect x="324.4" y="122.3" width="0.8" height="0.8" fill="#4848e0" fill-opacity="0.4"/>
<rect x="324.0" y="128.1" width="0.8" height="0.8" fill="#4848e0" fill-opacity="0.4"/>
<rect x="322.8" y="116.0" width="0.8" height="0.8" fill="#4848e0" fill-opacity="0.4"/>
<rect x="324.1" y="126.7" width="0.8" height="0.8" fill="#4848e0" fill-opacity="0.4"/>
<rect x="323.6" y="128.6" width="0.8" height="0.8" fill="#4848e0" fill-opacity="0.4"/>
<rect x="322.8" y="124.1" width="0.8" height="0.8" fill="#4848e0" fill-opacity="0.4"/>
<rect x="323.2" y="127.1" width="0.8" height="0.8" fill="#4848e0" fill-opacity="0.4"/>
<rect x="325.8" y="123.3" width="0.8" height="0.8" fill="#4848e0" fill-opacity="0.4"/>
<rect x="326.5" y="131.5" width="0.8" height="0.8" fill="#4848e0" fill-opacity="0.4"/>
<rect x="324.7" y="127.2" width="0.8" height="0.8" fill="#4848e0" fill-opacity="0.4"/>
<rect x="326.1" y="123.7" width="0.8" height="0.8" fill="#4848e0" fill-opacity="0.4"/>
<rect x="323.4" y="119.6" width="0.8" height="0.8" fill="#4848e0" fill-opacity="0.4"/>
<rect x="324.3" y="130.7" width="0.8" height="0.8" fill="#4848e0" fill-opacity="0.4"/>
<rect x="324.3" y="126.4" width="0.8" height="0.8" fill="#4848e0" fill-opacity="0.4"/>
<rect x="323.3" y="125.3" width="0.8" height="0.8" fill="#4848e0" fill-opacity="0.4"/>
<rect x="321.6" y="129.3" width="0.8" height="0.8" fill="#4848e0" fill-opacity="0.4"/>
<rect x="323.0" y="119.4" width="0.8" height="0.8" fill="#4848e0" fill-opacity="0.4"/>
<rect x="322.5" y="120.7" width="0.8" height="0.8" fill="#4848e0" fill-opacity="0.4"/>
<rect x="324.8" y="129.4" width="0.8" height="0.8" fill="#4848e0" fill-opacity="0.4"/>
<rect x="321.7" y="128.8" width="0.8" height="0.8" fill="#4848e0" fill-opacity="0.4"/>
<rect x="324.8" y="121.8" width="0.8" height="0.8" fill="#4848e0" fill-opacity="0.4"/>
<rect x="321.5" y="121.1" width="0.8" height="0.8" fill="#4848e0" fill-opacity="0.4"/>
<rect x="322.7" y="126.1" width="0.8" height="0.8" fill="#4848e0" fill-opacity="0.4"/>
<rect x="323.1" y="115.2" width="0.8" height="0.8" fill="#4848e0" fill-opacity="0.4"/>
<rect x="323.9" y="117.4" width="0.8" height="0.8" fill="#4848e0" fill-opacity="0.4"/>
<rect x="324.9" y="118.9" width="0.8" height="0.8" fill="#4848e0" fill-opacity="0.4"/>
<rect x="322.6" y="120.6" width="0.8" height="0.8" fill="#4848e0" fill-opacity="0.4"/>
<rect x="322.8" y="130.5" width="0.8" height="0.8" fill="#4848e0" fill-opacity="0.4"/>
<rect x="324.8" y="127.3" width="0.8" height="0.8" fill="#4848e0" fill-opacity="0.4"/>
<rect x="324.0" y="117.4" width="0.8" height="0.8" fill="#4848e0" fill-opacity="0.4"/>
<rect x="322.9" y="122.0" width="0.8" height="0.8" fill="#4848e0" fill-opacity="0.4"/>
<rect x="322.2" y="126.8" width="0.8" height="0.8" fill="#4848e0" fill-opacity="0.4"/>
<rect x="322.6" y="121.2" width="0.8" height="0.8" fill="#4848e0" fill-opacity="0.4"/>
<rect x="322.1" y="115.0" width="0.8" height="0.8" fill="#4848e0" fill-opacity="0.4"/>
<rect x="324.4" y="130.6" width="0.8" height="0.8" fill="#4848e0" fill-opacity="0.4"/>
<rect x="323.8" y="120.0" width="0.8" height="0.8" fill="#4848e0" fill-opacity="0.4"/>
<rect x="319.8" y="125.3" width="0.8" height="0.8" fill="#4848e0" fill-opacity="0.4"/>
<rect x="325.3" y="125.9" width="0.8" height="0.8" fill="#4848e0" fill-opacity="0.4"/>
<rect x="324.9" y="131.3" width="0.8" height="0.8" fill="#4848e0" fill-opacity="0.4"/>
<rect x="325.2" y="122.5" width="0.8" height="0.8" fill="#4848e0" fill-opacity="0.4"/>
<rect x="325.1" y="128.1" width="0.8" height="0.8" fill="#4848e0" fill-opacity="0.4"/>
<rect x="321.4" y="122.6" width="0.8" height="0.8" fill="#4848e0" fill-opacity="0.4"/>
<rect x="321.6" y="124.0" width="0.8" height="0.8" fill="#4848e0" fill-opacity="0.4"/>
<rect x="324.4" y="119.6" width="0.8" height="0.8" fill="#4848e0" fill-opacity="0.4"/>
<rect x="320.7" y="130.5" width="0.8" height="0.8" fill="#4848e0" fill-opacity="0.4"/>
<rect x="324.1" y="131.3" width="0.8" height="0.8" fill="#4848e0" fill-opacity="0.4"/>
<rect x="321.7" y="129.4" width="0.8" height="0.8" fill="#4848e0" fill-opacity="0.4"/>
<rect x="326.5" y="133.7" width="0.8" height="0.8" fill="#4848e0" fill-opacity="0.4"/>
<rect x="323.3" y="125.7" width="0.8" height="0.8" fill="#4848e0" fill-opacity="0.4"/>
<rect x="323.4" y="129.1" width="0.8" height="0.8" fill="#4848e0" fill-opacity="0.4"/>
<rect x="325.1" y="124.9" width="0.8" height="0.8" fill="#4848e0" fill-opacity="0.4"/>
<rect x="321.7" y="127.9" width="0.8" height="0.8" fill="#4848e0" fill-opacity="0.4"/>
<rect x="322.9" y="127.4" width="0.8" height="0.8" fill="#4848e0" fill-opacity="0.4"/>
<rect x="324.0" y="132.0" width="0.8" height="0.8" fill="#4848e0" fill-opacity="0.4"/>
<rect x="325.2" y="122.4" width="0.8" height="0.8" fill="#4848e0" fill-opacity="0.4"/>
<rect x="324.1" y="132.6" width="0.8" height="0.8" fill="#4848e0" fill-opacity="0.4"/>
<rect x="322.8" y="126.5" width="0.8" height="0.8" fill="#4848e0" fill-opacity="0.4"/>
<rect x="325.3" y="130.3" width="0.8" height="0.8" fill="#4848e0" fill-opacity="0.4"/>
<rect x="324.3" y="118.4" width="0.8" height="0.8" fill="#4848e0" fill-opacity="0.4"/>
<rect x="321.8" y="125.6" width="0.8" height="0.8" fill="#4848e0" fill-opacity="0.4"/>
<rect x="324.1" y="136.2" width="0.8" height="0.8" fill="#4848e0" fill-opacity="0.4"/>
<rect x="322.4" y="129.7" width="0.8" height="0.8" fill="#4848e0" fill-opacity="0.4"/>
<rect x="324.7" y="116.8" width="0.8" height="0.8" fill="#4848e0" fill-opacity="0.4"/>
<rect x="322.5" y="125.3" width="0.8" height="0.8" fill="#4848e0" fill-opacity="0.4"/>
<rect x="322.9" y="123.8" width="0.8" height="0.8" fill="#4848e0" fill-opacity="0.4"/>
<rect x="324.3" y="120.8" width="0.8" height="0.8" fill="#4848e0" fill-opacity="0.4"/>
<rect x="324.3" y="121.6" width="0.8" height="0.8" fill="#4848e0" fill-opacity="0.4"/>
<rect x="322.8" y="127.0" width="0.8" height="0.8" fill="#4848e0" fill-opacity="0.4"/>
<rect x="322.8" y="125.8" width="0.8" height="0.8" fill="#4848e0" fill-opacity="0.4"/>
<rect x="325.8" y="124.6" width="0.8" height="0.8" fill="#4848e0" fill-opacity="0.4"/>
<rect x="323.4" y="127.9" width="0.8" height="0.8" fill="#4848e0" fill-opacity="0.4"/>
<rect x="323.1" y="129.5" width="0.8" height="0.8" fill="#4848e0" fill-opacity="0.4"/>
<text x="322.6" y="101" font-size="8.8" text-anchor="middle" fill="#1e1e1e" textLength="9.60" lengthAdjust="spacingAndGlyphs" >46</text>
<text x="321.9" y="143.8" font-size="8.8" text-anchor="middle" fill="#1e1e1e" textLength="9.60" lengthAdjust="spacingAndGlyphs" >54</text>
<text x="289" y="37.6" font-size="8.2" text-anchor="middle" fill="#1e1e1e" textLength="11.80" lengthAdjust="spacingAndGlyphs" >WT</text>
<text x="283.5" y="98.8" font-size="8.2" fill="#1e1e1e" textLength="13.80" lengthAdjust="spacingAndGlyphs">Apc</text>
<text x="297.4" y="95" font-size="5.2" fill="#1e1e1e">+/-</text>
<line x1="272.8" y1="156.5" x2="272.8" y2="120" stroke="#111" stroke-width="1"/>
<line x1="272.3" y1="156.5" x2="316" y2="156.5" stroke="#111" stroke-width="1"/>
<polygon points="272.8,115.8 270.1,121 275.5,121" fill="#111"/>
<polygon points="320.4,156.5 315.2,153.8 315.2,159.2" fill="#111"/>
<text class="rt" transform="translate(267.4,135.5) rotate(-90)" x="0" y="0" font-size="9.2" text-anchor="middle" fill="#1e1e1e" textLength="30.50" lengthAdjust="spacingAndGlyphs">CD71-PE</text>
<text x="296.8" y="168.1" font-size="9.2" text-anchor="middle" fill="#1e1e1e" textLength="39.60" lengthAdjust="spacingAndGlyphs" >Ter119-APC</text>
<text x="359.8" y="18.2" font-size="11.6" text-anchor="middle" font-weight="bold" fill="#000" >D</text>
<line x1="401.5" y1="35.5" x2="401.5" y2="109" stroke="#1c1c1c" stroke-width="1"/>
<line x1="398.5" y1="108.5" x2="401.5" y2="108.5" stroke="#1c1c1c" stroke-width="1"/>
<text x="395.9" y="111.4" font-size="8.6" text-anchor="end" fill="#1e1e1e" textLength="4.45" lengthAdjust="spacingAndGlyphs" >0</text>
<line x1="398.5" y1="96.766" x2="401.5" y2="96.766" stroke="#1c1c1c" stroke-width="1"/>
<text x="395.9" y="100.4" font-size="8.6" text-anchor="end" fill="#1e1e1e" textLength="8.90" lengthAdjust="spacingAndGlyphs" >20</text>
<line x1="398.5" y1="85.032" x2="401.5" y2="85.032" stroke="#1c1c1c" stroke-width="1"/>
<text x="395.9" y="88.4" font-size="8.6" text-anchor="end" fill="#1e1e1e" textLength="8.90" lengthAdjust="spacingAndGlyphs" >40</text>
<line x1="398.5" y1="73.298" x2="401.5" y2="73.298" stroke="#1c1c1c" stroke-width="1"/>
<text x="395.9" y="76.4" font-size="8.6" text-anchor="end" fill="#1e1e1e" textLength="8.90" lengthAdjust="spacingAndGlyphs" >60</text>
<line x1="398.5" y1="61.564" x2="401.5" y2="61.564" stroke="#1c1c1c" stroke-width="1"/>
<text x="395.9" y="65.4" font-size="8.6" text-anchor="end" fill="#1e1e1e" textLength="8.90" lengthAdjust="spacingAndGlyphs" >80</text>
<line x1="398.5" y1="49.83" x2="401.5" y2="49.83" stroke="#1c1c1c" stroke-width="1"/>
<text x="395.9" y="53.4" font-size="8.6" text-anchor="end" fill="#1e1e1e" textLength="13.34" lengthAdjust="spacingAndGlyphs" >100</text>
<line x1="398.5" y1="38.096000000000004" x2="401.5" y2="38.096000000000004" stroke="#1c1c1c" stroke-width="1"/>
<text x="395.9" y="41.4" font-size="8.6" text-anchor="end" fill="#1e1e1e" textLength="13.34" lengthAdjust="spacingAndGlyphs" >120</text>
<line x1="401" y1="108.5" x2="491.5" y2="108.5" stroke="#1c1c1c" stroke-width="1"/>
<rect x="411.8" y="101.2" width="10.199999999999989" height="6.799999999999997" fill="#1f3a72" />
<rect x="412.40000000000003" y="101.8" width="8.99999999999999" height="6.1999999999999975" fill="#2d4b86" />
<line x1="416.9" y1="100" x2="416.9" y2="102.6" stroke="#222" stroke-width="1.0"/>
<polygon points="415.59999999999997,99.7 418.2,99.7 417.4,101.2 416.4,101.2" fill="#222"/>
<rect x="425.1" y="76.2" width="9.899999999999977" height="31.799999999999997" fill="#93001f" />
<rect x="425.70000000000005" y="76.8" width="8.699999999999978" height="31.199999999999996" fill="#a6002b" />
<line x1="430" y1="73.6" x2="430" y2="78.8" stroke="#222" stroke-width="1.0"/>
<polygon points="428.7,73.3 431.3,73.3 430.5,74.8 429.5,74.8" fill="#222"/>
<line x1="429" y1="78.8" x2="431" y2="78.8" stroke="#222" stroke-width="0.9"/>
<rect x="457.1" y="56.2" width="9.899999999999977" height="51.8" fill="#1f3a72" />
<rect x="457.70000000000005" y="56.800000000000004" width="8.699999999999978" height="51.199999999999996" fill="#2d4b86" />
<line x1="462" y1="50.2" x2="462" y2="58" stroke="#222" stroke-width="1.0"/>
<polygon points="460.7,49.900000000000006 463.3,49.900000000000006 462.5,51.400000000000006 461.5,51.400000000000006" fill="#222"/>
<rect x="469.6" y="81" width="10.0" height="27" fill="#93001f" />
<rect x="470.20000000000005" y="81.6" width="8.8" height="26.4" fill="#a6002b" />
<line x1="474.6" y1="78.4" x2="474.6" y2="84" stroke="#222" stroke-width="1.0"/>
<polygon points="473.3,78.10000000000001 475.90000000000003,78.10000000000001 475.1,79.60000000000001 474.1,79.60000000000001" fill="#222"/>
<line x1="473.6" y1="84" x2="475.6" y2="84" stroke="#222" stroke-width="0.9"/>
<circle cx="428.09999999999997" cy="64.4" r="1.2" fill="#222"/>
<circle cx="431.7" cy="64.4" r="1.2" fill="#222"/>
<circle cx="473.09999999999997" cy="70.6" r="1.2" fill="#222"/>
<circle cx="476.7" cy="70.6" r="1.2" fill="#222"/>
<rect x="416.1" y="36.5" width="4.4" height="4.2" fill="#2d4b86" />
<text x="429.3" y="40.8" font-size="8.2" text-anchor="middle" fill="#1e1e1e" textLength="12.20" lengthAdjust="spacingAndGlyphs" >WT</text>
<rect x="444.7" y="36.5" width="4.4" height="4.2" fill="#a6002b" />
<text x="464.2" y="40.8" font-size="8.2" text-anchor="middle" fill="#1e1e1e" textLength="24.30" lengthAdjust="spacingAndGlyphs" >Apc+/-</text>
<text transform="translate(376.3,72.5) rotate(-90) scale(0.7792,1)" x="0" y="0" font-size="10.6" text-anchor="middle" fill="#1e1e1e">% ter119<tspan dy="-3.18" font-size="5.8">+</tspan><tspan dy="3.18"> cells</tspan></text>
<text transform="translate(425.2,115.6) rotate(-45)" x="0" y="0" font-size="8.6" text-anchor="end" fill="#1e1e1e" textLength="55.50" lengthAdjust="spacingAndGlyphs">Ter119+CD71+</text>
<text transform="translate(470.8,116.8) rotate(-45)" x="0" y="0" font-size="8.6" text-anchor="end" fill="#1e1e1e" textLength="53.50" lengthAdjust="spacingAndGlyphs">Ter119+CD71-</text>
<text x="11" y="195.4" font-size="11.6" text-anchor="middle" font-weight="bold" fill="#000" >E</text>
<defs><clipPath id="clipE"><rect x="14" y="235.8" width="140" height="50"/></clipPath><linearGradient id="pk1" x1="0" y1="0" x2="1" y2="0"><stop offset="0" stop-color="#ecbcbc"/><stop offset="0.25" stop-color="#e39fa4"/><stop offset="0.55" stop-color="#e7b0b1"/><stop offset="0.74" stop-color="#f1d0cb"/><stop offset="1" stop-color="#f7e3dc"/></linearGradient><linearGradient id="pk2" x1="0" y1="0" x2="1" y2="0"><stop offset="0" stop-color="#f0c8c4"/><stop offset="0.25" stop-color="#e8b0ae"/><stop offset="0.55" stop-color="#ecbdb8"/><stop offset="0.74" stop-color="#f4d9d1"/><stop offset="1" stop-color="#f9eae3"/></linearGradient><linearGradient id="vfade" x1="0" y1="0" x2="0" y2="1"><stop offset="0" stop-color="#fff" stop-opacity="0"/><stop offset="0.55" stop-color="#fff" stop-opacity="0.12"/><stop offset="1" stop-color="#fff" stop-opacity="0.6"/></linearGradient><radialGradient id="bgc" cx="0.5" cy="0.4" r="0.5"><stop offset="0" stop-color="#fbf1ea"/><stop offset="0.6" stop-color="#fdf7f1"/><stop offset="1" stop-color="#fff" stop-opacity="0"/></radialGradient></defs>
<g clip-path="url(#clipE)">
<rect x="26" y="226" width="112" height="50" fill="#fdf8f3" filter="url(#blur2)"/>
<g transform="translate(35.5,235.8) scale(1.0)">
<path d="M-1,-1 L42,-1 C40,10 33,25 24.5,32.5 C20,35.5 13,35.5 8,32 C3,27.5 0,15 -1,-1 Z" fill="#f8ede6" filter="url(#blur05)"/>
<path d="M42,-1 C40,10 33,25 24.5,32.5 C20,35.5 13,35.5 8,32" stroke="#efe0d2" stroke-width="1.4" fill="none" filter="url(#blur1)"/>
<path d="M0,-1 L32.5,-1 C30,8 26,18 23,24 C21,28.5 18.5,30.8 16.5,30.8 C13,30.8 9,28 6,23 C3,17 1,9 0,-1 Z" fill="url(#pk1)" filter="url(#blur05)"/>
<path d="M0,-1 L32.5,-1 C30,8 26,18 23,24 C21,28.5 18.5,30.8 16.5,30.8 C13,30.8 9,28 6,23 C3,17 1,9 0,-1 Z" fill="url(#vfade)"/>
<path d="M24.5,-1 C24,8 22.5,16 19,24" stroke="#fff" stroke-width="1.4" fill="none" opacity="0.5" filter="url(#blur05)"/>
<ellipse cx="12.8" cy="24.0" rx="3.04" ry="3.3600000000000003" fill="#c65a38" opacity="0.3" filter="url(#blur1)"/>
<ellipse cx="12.8" cy="23.7" rx="1.52" ry="1.6" fill="#c65a38" filter="url(#blur05)"/>
</g>
<g transform="translate(90.8,235.8) scale(0.92)">
<path d="M-1,-1 L42,-1 C40,10 33,25 24.5,32.5 C20,35.5 13,35.5 8,32 C3,27.5 0,15 -1,-1 Z" fill="#f8ede6" filter="url(#blur05)"/>
<path d="M42,-1 C40,10 33,25 24.5,32.5 C20,35.5 13,35.5 8,32" stroke="#efe0d2" stroke-width="1.4" fill="none" filter="url(#blur1)"/>
<path d="M0,-1 L32.5,-1 C30,8 26,18 23,24 C21,28.5 18.5,30.8 16.5,30.8 C13,30.8 9,28 6,23 C3,17 1,9 0,-1 Z" fill="url(#pk2)" filter="url(#blur05)"/>
<path d="M0,-1 L32.5,-1 C30,8 26,18 23,24 C21,28.5 18.5,30.8 16.5,30.8 C13,30.8 9,28 6,23 C3,17 1,9 0,-1 Z" fill="url(#vfade)"/>
<path d="M24.5,-1 C24,8 22.5,16 19,24" stroke="#fff" stroke-width="1.4" fill="none" opacity="0.5" filter="url(#blur05)"/>
<ellipse cx="20.2" cy="22.1" rx="2.8499999999999996" ry="3.1500000000000004" fill="#e2ad7c" opacity="0.3" filter="url(#blur1)"/>
<ellipse cx="20.2" cy="21.8" rx="1.4249999999999998" ry="1.5" fill="#e2ad7c" filter="url(#blur05)"/>
</g>
</g>
<text x="53.6" y="230.8" font-size="8.8" text-anchor="middle" fill="#1e1e1e" textLength="26.20" lengthAdjust="spacingAndGlyphs" >On WT</text>
<text x="87.6" y="230.9" font-size="8.8" fill="#1e1e1e" textLength="27.60" lengthAdjust="spacingAndGlyphs">On Apc</text>
<text x="116" y="227.4" font-size="5.6" fill="#1e1e1e">+/-</text>
<text x="160" y="195.9" font-size="11.6" text-anchor="middle" font-weight="bold" fill="#000" >F</text>
<line x1="198.75" y1="199.8" x2="198.75" y2="303.5" stroke="#1c1c1c" stroke-width="1"/>
<line x1="195.75" y1="303.5" x2="198.75" y2="303.5" stroke="#1c1c1c" stroke-width="1"/>
<text x="192.3" y="307.4" font-size="8.6" text-anchor="end" fill="#1e1e1e" textLength="4.45" lengthAdjust="spacingAndGlyphs" >0</text>
<line x1="195.75" y1="278.5" x2="198.75" y2="278.5" stroke="#1c1c1c" stroke-width="1"/>
<text x="192.3" y="281.4" font-size="8.6" text-anchor="end" fill="#1e1e1e" textLength="4.45" lengthAdjust="spacingAndGlyphs" >5</text>
<line x1="195.75" y1="253.5" x2="198.75" y2="253.5" stroke="#1c1c1c" stroke-width="1"/>
<text x="192.3" y="257.4" font-size="8.6" text-anchor="end" fill="#1e1e1e" textLength="8.90" lengthAdjust="spacingAndGlyphs" >10</text>
<line x1="195.75" y1="228.5" x2="198.75" y2="228.5" stroke="#1c1c1c" stroke-width="1"/>
<text x="192.3" y="231.4" font-size="8.6" text-anchor="end" fill="#1e1e1e" textLength="8.90" lengthAdjust="spacingAndGlyphs" >15</text>
<line x1="195.75" y1="203.5" x2="198.75" y2="203.5" stroke="#1c1c1c" stroke-width="1"/>
<text x="192.3" y="207.4" font-size="8.6" text-anchor="end" fill="#1e1e1e" textLength="8.90" lengthAdjust="spacingAndGlyphs" >20</text>
<line x1="198" y1="303.5" x2="512.3" y2="303.5" stroke="#1c1c1c" stroke-width="1"/>
<rect x="202.7" y="298.2" width="3.9000000000000057" height="4.800000000000011" fill="#1f3a72" />
<rect x="203.29999999999998" y="298.8" width="2.7000000000000055" height="4.200000000000012" fill="#2d4b86" />
<rect x="206.6" y="298.2" width="4.0" height="4.800000000000011" fill="#93001f" />
<rect x="207.2" y="298.8" width="2.8" height="4.200000000000012" fill="#a6002b" />
<rect x="203.6" y="297.3" width="2.1" height="1.1" fill="#333" />
<rect x="207.5" y="297.3" width="2.1" height="1.1" fill="#333" />
<text transform="translate(209.0,309.8) rotate(-45)" x="0" y="0" font-size="8.2" text-anchor="end" fill="#1e1e1e" textLength="13.56" lengthAdjust="spacingAndGlyphs">IL-3</text>
<rect x="218.42999999999998" y="298.2" width="3.9000000000000057" height="4.800000000000011" fill="#1f3a72" />
<rect x="219.02999999999997" y="298.8" width="2.7000000000000055" height="4.200000000000012" fill="#2d4b86" />
<rect x="222.32999999999998" y="298.95" width="4.0" height="4.050000000000011" fill="#93001f" />
<rect x="222.92999999999998" y="299.55" width="2.8" height="3.4500000000000113" fill="#a6002b" />
<rect x="219.32999999999998" y="297.3" width="2.1" height="1.1" fill="#333" />
<rect x="223.23" y="298.05" width="2.1" height="1.1" fill="#333" />
<text transform="translate(224.73,309.8) rotate(-45)" x="0" y="0" font-size="8.2" text-anchor="end" fill="#1e1e1e" textLength="17.94" lengthAdjust="spacingAndGlyphs">IL-1b</text>
<rect x="234.16" y="298.2" width="3.9000000000000057" height="4.800000000000011" fill="#1f3a72" />
<rect x="234.76" y="298.8" width="2.7000000000000055" height="4.200000000000012" fill="#2d4b86" />
<rect x="238.06" y="298.7" width="4.0" height="4.300000000000011" fill="#93001f" />
<rect x="238.66" y="299.3" width="2.8" height="3.7000000000000113" fill="#a6002b" />
<rect x="235.06" y="297.3" width="2.1" height="1.1" fill="#333" />
<rect x="238.96" y="297.8" width="2.1" height="1.1" fill="#333" />
<text transform="translate(240.46,309.8) rotate(-45)" x="0" y="0" font-size="8.2" text-anchor="end" fill="#1e1e1e" textLength="22.30" lengthAdjust="spacingAndGlyphs">TNF-a</text>
<rect x="249.89" y="298.2" width="3.9000000000000057" height="4.800000000000011" fill="#1f3a72" />
<rect x="250.48999999999998" y="298.8" width="2.7000000000000055" height="4.200000000000012" fill="#2d4b86" />
<rect x="253.79" y="298.45" width="3.9999999999999716" height="4.550000000000011" fill="#93001f" />
<rect x="254.39" y="299.05" width="2.7999999999999714" height="3.9500000000000113" fill="#a6002b" />
<rect x="250.79" y="297.3" width="2.1" height="1.1" fill="#333" />
<rect x="254.69" y="297.55" width="2.1" height="1.1" fill="#333" />
<text transform="translate(256.19,309.8) rotate(-45)" x="0" y="0" font-size="8.2" text-anchor="end" fill="#1e1e1e" textLength="13.56" lengthAdjust="spacingAndGlyphs">IL-9</text>
<rect x="265.62" y="298.2" width="3.8999999999999773" height="4.800000000000011" fill="#1f3a72" />
<rect x="266.22" y="298.8" width="2.699999999999977" height="4.200000000000012" fill="#2d4b86" />
<rect x="269.52" y="298.2" width="4.0" height="4.800000000000011" fill="#93001f" />
<rect x="270.12" y="298.8" width="2.8" height="4.200000000000012" fill="#a6002b" />
<rect x="266.52" y="297.3" width="2.1" height="1.1" fill="#333" />
<rect x="270.42" y="297.3" width="2.1" height="1.1" fill="#333" />
<text transform="translate(271.92,309.8) rotate(-45)" x="0" y="0" font-size="8.2" text-anchor="end" fill="#1e1e1e" textLength="17.92" lengthAdjust="spacingAndGlyphs">IFN-r</text>
<rect x="281.35" y="298.2" width="3.8999999999999773" height="4.800000000000011" fill="#1f3a72" />
<rect x="281.95000000000005" y="298.8" width="2.699999999999977" height="4.200000000000012" fill="#2d4b86" />
<rect x="285.25" y="298.2" width="4.0" height="4.800000000000011" fill="#93001f" />
<rect x="285.85" y="298.8" width="2.8" height="4.200000000000012" fill="#a6002b" />
<rect x="282.25" y="297.3" width="2.1" height="1.1" fill="#333" />
<rect x="286.15000000000003" y="297.3" width="2.1" height="1.1" fill="#333" />
<text transform="translate(287.65000000000003,309.8) rotate(-45)" x="0" y="0" font-size="8.2" text-anchor="end" fill="#1e1e1e" textLength="13.56" lengthAdjust="spacingAndGlyphs">IL-2</text>
<rect x="297.08" y="298.2" width="3.8999999999999773" height="4.800000000000011" fill="#1f3a72" />
<rect x="297.68" y="298.8" width="2.699999999999977" height="4.200000000000012" fill="#2d4b86" />
<rect x="300.97999999999996" y="298.2" width="4.0" height="4.800000000000011" fill="#93001f" />
<rect x="301.58" y="298.8" width="2.8" height="4.200000000000012" fill="#a6002b" />
<rect x="297.97999999999996" y="297.3" width="2.1" height="1.1" fill="#333" />
<rect x="301.88" y="297.3" width="2.1" height="1.1" fill="#333" />
<text transform="translate(303.38,309.8) rotate(-45)" x="0" y="0" font-size="8.2" text-anchor="end" fill="#1e1e1e" textLength="17.94" lengthAdjust="spacingAndGlyphs">IL-13</text>
<rect x="312.81" y="298.2" width="3.8999999999999773" height="4.800000000000011" fill="#1f3a72" />
<rect x="313.41" y="298.8" width="2.699999999999977" height="4.200000000000012" fill="#2d4b86" />
<rect x="316.71" y="253.2" width="4.0" height="49.80000000000001" fill="#93001f" />
<rect x="317.31" y="253.79999999999998" width="2.8" height="49.20000000000001" fill="#a6002b" />
<rect x="313.71" y="297.3" width="2.1" height="1.1" fill="#333" />
<text transform="translate(319.11,309.8) rotate(-45)" x="0" y="0" font-size="8.2" text-anchor="end" fill="#1e1e1e" textLength="13.56" lengthAdjust="spacingAndGlyphs">IL-6</text>
<rect x="328.53999999999996" y="298.2" width="3.8999999999999773" height="4.800000000000011" fill="#1f3a72" />
<rect x="329.14" y="298.8" width="2.699999999999977" height="4.200000000000012" fill="#2d4b86" />
<rect x="332.43999999999994" y="297.95" width="4.0" height="5.050000000000011" fill="#93001f" />
<rect x="333.03999999999996" y="298.55" width="2.8" height="4.450000000000012" fill="#a6002b" />
<rect x="329.43999999999994" y="297.3" width="2.1" height="1.1" fill="#333" />
<rect x="333.34" y="297.05" width="2.1" height="1.1" fill="#333" />
<text transform="translate(334.84,309.8) rotate(-45)" x="0" y="0" font-size="8.2" text-anchor="end" fill="#1e1e1e" textLength="13.56" lengthAdjust="spacingAndGlyphs">IL-4</text>
<rect x="344.27" y="298.2" width="3.8999999999999773" height="4.800000000000011" fill="#1f3a72" />
<rect x="344.87" y="298.8" width="2.699999999999977" height="4.200000000000012" fill="#2d4b86" />
<rect x="348.16999999999996" y="299.7" width="4.0" height="3.3000000000000114" fill="#93001f" />
<rect x="348.77" y="300.3" width="2.8" height="2.7000000000000113" fill="#a6002b" />
<rect x="345.16999999999996" y="297.3" width="2.1" height="1.1" fill="#333" />
<rect x="349.07" y="298.8" width="2.1" height="1.1" fill="#333" />
<text transform="translate(350.57,309.8) rotate(-45)" x="0" y="0" font-size="8.2" text-anchor="end" fill="#1e1e1e" textLength="24.49" lengthAdjust="spacingAndGlyphs">MCP-1</text>
<rect x="360.0" y="298.2" width="3.8999999999999773" height="4.800000000000011" fill="#1f3a72" />
<rect x="360.6" y="298.8" width="2.699999999999977" height="4.200000000000012" fill="#2d4b86" />
<rect x="363.9" y="298.2" width="4.0" height="4.800000000000011" fill="#93001f" />
<rect x="364.5" y="298.8" width="2.8" height="4.200000000000012" fill="#a6002b" />
<rect x="360.9" y="297.3" width="2.1" height="1.1" fill="#333" />
<rect x="364.8" y="297.3" width="2.1" height="1.1" fill="#333" />
<text transform="translate(366.3,309.8) rotate(-45)" x="0" y="0" font-size="8.2" text-anchor="end" fill="#1e1e1e" textLength="13.56" lengthAdjust="spacingAndGlyphs">IL-5</text>
<rect x="375.73" y="298.2" width="3.8999999999999773" height="4.800000000000011" fill="#1f3a72" />
<rect x="376.33000000000004" y="298.8" width="2.699999999999977" height="4.200000000000012" fill="#2d4b86" />
<rect x="379.63" y="299.2" width="4.0" height="3.8000000000000114" fill="#93001f" />
<rect x="380.23" y="299.8" width="2.8" height="3.2000000000000113" fill="#a6002b" />
<rect x="376.63" y="297.3" width="2.1" height="1.1" fill="#333" />
<rect x="380.53000000000003" y="298.3" width="2.1" height="1.1" fill="#333" />
<text transform="translate(382.03000000000003,309.8) rotate(-45)" x="0" y="0" font-size="8.2" text-anchor="end" fill="#1e1e1e" textLength="17.94" lengthAdjust="spacingAndGlyphs">IL-1a</text>
<rect x="391.46" y="298.2" width="3.8999999999999773" height="4.800000000000011" fill="#1f3a72" />
<rect x="392.06" y="298.8" width="2.699999999999977" height="4.200000000000012" fill="#2d4b86" />
<rect x="395.35999999999996" y="299.45" width="4.0" height="3.5500000000000114" fill="#93001f" />
<rect x="395.96" y="300.05" width="2.8" height="2.9500000000000113" fill="#a6002b" />
<rect x="392.35999999999996" y="297.3" width="2.1" height="1.1" fill="#333" />
<rect x="396.26" y="298.55" width="2.1" height="1.1" fill="#333" />
<text transform="translate(397.76,309.8) rotate(-45)" x="0" y="0" font-size="8.2" text-anchor="end" fill="#1e1e1e" textLength="31.93" lengthAdjust="spacingAndGlyphs">RANTES</text>
<rect x="407.19" y="298.2" width="3.8999999999999773" height="4.800000000000011" fill="#1f3a72" />
<rect x="407.79" y="298.8" width="2.699999999999977" height="4.200000000000012" fill="#2d4b86" />
<rect x="411.09" y="298.45" width="4.0" height="4.550000000000011" fill="#93001f" />
<rect x="411.69" y="299.05" width="2.8" height="3.9500000000000113" fill="#a6002b" />
<rect x="408.09" y="297.3" width="2.1" height="1.1" fill="#333" />
<rect x="411.99" y="297.55" width="2.1" height="1.1" fill="#333" />
<text transform="translate(413.49,309.8) rotate(-45)" x="0" y="0" font-size="8.2" text-anchor="end" fill="#1e1e1e" textLength="17.94" lengthAdjust="spacingAndGlyphs">IL-10</text>
<rect x="422.91999999999996" y="298.2" width="3.8999999999999773" height="4.800000000000011" fill="#1f3a72" />
<rect x="423.52" y="298.8" width="2.699999999999977" height="4.200000000000012" fill="#2d4b86" />
<rect x="426.81999999999994" y="296.45" width="4.0" height="6.550000000000011" fill="#93001f" />
<rect x="427.41999999999996" y="297.05" width="2.8" height="5.950000000000012" fill="#a6002b" />
<rect x="423.81999999999994" y="297.3" width="2.1" height="1.1" fill="#333" />
<rect x="427.71999999999997" y="295.55" width="2.1" height="1.1" fill="#333" />
<text transform="translate(429.21999999999997,309.8) rotate(-45)" x="0" y="0" font-size="8.2" text-anchor="end" fill="#1e1e1e" textLength="10.94" lengthAdjust="spacingAndGlyphs">KC</text>
<rect x="438.65" y="298.2" width="3.8999999999999773" height="4.800000000000011" fill="#1f3a72" />
<rect x="439.25" y="298.8" width="2.699999999999977" height="4.200000000000012" fill="#2d4b86" />
<rect x="442.54999999999995" y="297.95" width="4.0" height="5.050000000000011" fill="#93001f" />
<rect x="443.15" y="298.55" width="2.8" height="4.450000000000012" fill="#a6002b" />
<rect x="439.54999999999995" y="297.3" width="2.1" height="1.1" fill="#333" />
<rect x="443.45" y="297.05" width="2.1" height="1.1" fill="#333" />
<text transform="translate(444.95,309.8) rotate(-45)" x="0" y="0" font-size="8.2" text-anchor="end" fill="#1e1e1e" textLength="22.32" lengthAdjust="spacingAndGlyphs">IL-17a</text>
<rect x="454.38" y="298.2" width="3.8999999999999773" height="4.800000000000011" fill="#1f3a72" />
<rect x="454.98" y="298.8" width="2.699999999999977" height="4.200000000000012" fill="#2d4b86" />
<rect x="458.28" y="297.95" width="4.0" height="5.050000000000011" fill="#93001f" />
<rect x="458.88" y="298.55" width="2.8" height="4.450000000000012" fill="#a6002b" />
<rect x="455.28" y="297.3" width="2.1" height="1.1" fill="#333" />
<rect x="459.18" y="297.05" width="2.1" height="1.1" fill="#333" />
<text transform="translate(460.68,309.8) rotate(-45)" x="0" y="0" font-size="8.2" text-anchor="end" fill="#1e1e1e" textLength="31.05" lengthAdjust="spacingAndGlyphs">GM-CSF</text>
<rect x="470.11" y="298.2" width="3.8999999999999773" height="4.800000000000011" fill="#1f3a72" />
<rect x="470.71000000000004" y="298.8" width="2.699999999999977" height="4.200000000000012" fill="#2d4b86" />
<rect x="474.01" y="299.7" width="4.0" height="3.3000000000000114" fill="#93001f" />
<rect x="474.61" y="300.3" width="2.8" height="2.7000000000000113" fill="#a6002b" />
<rect x="471.01" y="297.3" width="2.1" height="1.1" fill="#333" />
<rect x="474.91" y="298.8" width="2.1" height="1.1" fill="#333" />
<text transform="translate(476.41,309.8) rotate(-45)" x="0" y="0" font-size="8.2" text-anchor="end" fill="#1e1e1e" textLength="26.26" lengthAdjust="spacingAndGlyphs">Eotaxin</text>
<rect x="485.84" y="298.2" width="3.8999999999999773" height="4.800000000000011" fill="#1f3a72" />
<rect x="486.44" y="298.8" width="2.699999999999977" height="4.200000000000012" fill="#2d4b86" />
<rect x="489.73999999999995" y="297.7" width="4.0" height="5.300000000000011" fill="#93001f" />
<rect x="490.34" y="298.3" width="2.8" height="4.700000000000012" fill="#a6002b" />
<rect x="486.73999999999995" y="297.3" width="2.1" height="1.1" fill="#333" />
<rect x="490.64" y="296.8" width="2.1" height="1.1" fill="#333" />
<text transform="translate(492.14,309.8) rotate(-45)" x="0" y="0" font-size="8.2" text-anchor="end" fill="#1e1e1e" textLength="31.08" lengthAdjust="spacingAndGlyphs">IL-12p40</text>
<rect x="501.57" y="298.2" width="3.8999999999999773" height="4.800000000000011" fill="#1f3a72" />
<rect x="502.17" y="298.8" width="2.699999999999977" height="4.200000000000012" fill="#2d4b86" />
<rect x="505.46999999999997" y="297.7" width="4.0" height="5.300000000000011" fill="#93001f" />
<rect x="506.07" y="298.3" width="2.8" height="4.700000000000012" fill="#a6002b" />
<rect x="502.46999999999997" y="297.3" width="2.1" height="1.1" fill="#333" />
<rect x="506.37" y="296.8" width="2.1" height="1.1" fill="#333" />
<text transform="translate(507.87,309.8) rotate(-45)" x="0" y="0" font-size="8.2" text-anchor="end" fill="#1e1e1e" textLength="31.08" lengthAdjust="spacingAndGlyphs">IL-12p70</text>
<line x1="318.5" y1="208.7" x2="318.5" y2="253.3" stroke="#4a4a4a" stroke-width="1.0"/>
<polygon points="317.4,208.39999999999998 319.6,208.39999999999998 319.0,209.89999999999998 318.0,209.89999999999998" fill="#4a4a4a"/>
<circle cx="318.6" cy="204.2" r="1.2" fill="#222"/>
<rect x="416.2" y="200.9" width="4.2" height="4.3" fill="#2d4b86" />
<text x="429.4" y="205.6" font-size="8.2" text-anchor="middle" fill="#1e1e1e" textLength="12.20" lengthAdjust="spacingAndGlyphs" >WT</text>
<rect x="444.6" y="200.9" width="4.2" height="4.3" fill="#a6002b" />
<text x="464.3" y="205.6" font-size="8.2" text-anchor="middle" fill="#1e1e1e" textLength="24.30" lengthAdjust="spacingAndGlyphs" >Apc+/-</text>
<text class="rt" transform="translate(178,251.7) rotate(-90)" x="0" y="0" font-size="9.2" text-anchor="middle" fill="#1e1e1e" textLength="106.00" lengthAdjust="spacingAndGlyphs">Relative cytokine concentration</text>
<text x="11.7" y="359" font-size="11.6" text-anchor="middle" font-weight="bold" fill="#000" >G</text>
<line x1="51.5" y1="367.5" x2="51.5" y2="477" stroke="#1c1c1c" stroke-width="1"/>
<line x1="48.5" y1="476.5" x2="51.5" y2="476.5" stroke="#1c1c1c" stroke-width="1"/>
<text x="45" y="479.4" font-size="8.6" text-anchor="end" fill="#1e1e1e" textLength="4.45" lengthAdjust="spacingAndGlyphs" >0</text>
<line x1="48.5" y1="441" x2="51.5" y2="441" stroke="#1c1c1c" stroke-width="1"/>
<text x="45" y="444.4" font-size="8.6" text-anchor="end" fill="#1e1e1e" textLength="8.90" lengthAdjust="spacingAndGlyphs" >30</text>
<line x1="48.5" y1="405.5" x2="51.5" y2="405.5" stroke="#1c1c1c" stroke-width="1"/>
<text x="45" y="409.4" font-size="8.6" text-anchor="end" fill="#1e1e1e" textLength="8.90" lengthAdjust="spacingAndGlyphs" >60</text>
<line x1="48.5" y1="370" x2="51.5" y2="370" stroke="#1c1c1c" stroke-width="1"/>
<text x="45" y="373.4" font-size="8.6" text-anchor="end" fill="#1e1e1e" textLength="8.90" lengthAdjust="spacingAndGlyphs" >90</text>
<line x1="51" y1="476.5" x2="167.8" y2="476.5" stroke="#1c1c1c" stroke-width="1"/>
<rect x="60.8" y="447.7" width="8.0" height="28.30000000000001" fill="#1f3a72" />
<rect x="61.4" y="448.3" width="6.8" height="27.70000000000001" fill="#2d4b86" />
<line x1="64.8" y1="440.1" x2="64.8" y2="449.2" stroke="#222" stroke-width="1.0"/>
<polygon points="63.5,439.8 66.1,439.8 65.3,441.3 64.3,441.3" fill="#222"/>
<rect x="71" y="437.9" width="8" height="38.10000000000002" fill="#93001f" />
<rect x="71.6" y="438.5" width="6.8" height="37.50000000000002" fill="#a6002b" />
<line x1="75" y1="430.2" x2="75" y2="439.4" stroke="#222" stroke-width="1.0"/>
<polygon points="73.7,429.9 76.3,429.9 75.5,431.4 74.5,431.4" fill="#222"/>
<rect x="81.6" y="428.9" width="8.0" height="47.10000000000002" fill="#5c9b3a" />
<rect x="82.19999999999999" y="429.5" width="6.8" height="46.50000000000002" fill="#6caa48" />
<line x1="85.6" y1="422.4" x2="85.6" y2="430.4" stroke="#222" stroke-width="1.0"/>
<polygon points="84.3,422.09999999999997 86.89999999999999,422.09999999999997 86.1,423.59999999999997 85.1,423.59999999999997" fill="#222"/>
<rect x="92.1" y="423" width="8.0" height="53" fill="#441b59" />
<rect x="92.69999999999999" y="423.6" width="6.8" height="52.4" fill="#532768" />
<line x1="96.1" y1="417.3" x2="96.1" y2="424.5" stroke="#222" stroke-width="1.0"/>
<polygon points="94.8,417.0 97.39999999999999,417.0 96.6,418.5 95.6,418.5" fill="#222"/>
<rect x="118.4" y="388.1" width="8.0" height="87.89999999999998" fill="#1f3a72" />
<rect x="119.0" y="388.70000000000005" width="6.8" height="87.29999999999998" fill="#2d4b86" />
<line x1="122.4" y1="380.3" x2="122.4" y2="389.6" stroke="#222" stroke-width="1.0"/>
<polygon points="121.10000000000001,380.0 123.7,380.0 122.9,381.5 121.9,381.5" fill="#222"/>
<rect x="129.3" y="397.6" width="8.0" height="78.39999999999998" fill="#93001f" />
<rect x="129.9" y="398.20000000000005" width="6.8" height="77.79999999999998" fill="#a6002b" />
<line x1="133.3" y1="389.6" x2="133.3" y2="399.1" stroke="#222" stroke-width="1.0"/>
<polygon points="132.0,389.3 134.60000000000002,389.3 133.8,390.8 132.8,390.8" fill="#222"/>
<rect x="140.1" y="406.6" width="8.0" height="69.39999999999998" fill="#5c9b3a" />
<rect x="140.7" y="407.20000000000005" width="6.8" height="68.79999999999998" fill="#6caa48" />
<line x1="144.1" y1="400.3" x2="144.1" y2="408.1" stroke="#222" stroke-width="1.0"/>
<polygon points="142.79999999999998,400.0 145.4,400.0 144.6,401.5 143.6,401.5" fill="#222"/>
<rect x="150.6" y="412.3" width="8.0" height="63.69999999999999" fill="#441b59" />
<rect x="151.2" y="412.90000000000003" width="6.8" height="63.09999999999999" fill="#532768" />
<line x1="154.6" y1="407" x2="154.6" y2="413.8" stroke="#222" stroke-width="1.0"/>
<polygon points="153.29999999999998,406.7 155.9,406.7 155.1,408.2 154.1,408.2" fill="#222"/>
<circle cx="85.7" cy="418.7" r="1.2" fill="#222"/>
<circle cx="96.1" cy="413.6" r="1.2" fill="#222"/>
<circle cx="142.4" cy="396.5" r="1.2" fill="#222"/>
<circle cx="145.8" cy="396.5" r="1.2" fill="#222"/>
<circle cx="152.9" cy="403.5" r="1.2" fill="#222"/>
<circle cx="156.3" cy="403.5" r="1.2" fill="#222"/>
<text transform="translate(31.2,421.9) rotate(-90) scale(0.7748,1)" x="0" y="0" font-size="10.6" text-anchor="middle" fill="#1e1e1e">% ter119<tspan dy="-3.18" font-size="5.8">+</tspan><tspan dy="3.18"> cells</tspan></text>
<text transform="translate(85.8,484.4) rotate(-45)" x="0" y="0" font-size="8.6" text-anchor="end" fill="#1e1e1e" textLength="55.50" lengthAdjust="spacingAndGlyphs">Ter119+CD71+</text>
<text transform="translate(144,485) rotate(-45)" x="0" y="0" font-size="8.6" text-anchor="end" fill="#1e1e1e" textLength="53.50" lengthAdjust="spacingAndGlyphs">Ter119+CD71-</text>
<rect x="50.4" y="533.3" width="4.4" height="4.6" fill="#2d4b86" />
<text x="57.8" y="538.2" font-size="8.2" fill="#1e1e1e">0</text>
<rect x="71.9" y="533.3" width="4.4" height="4.6" fill="#a6002b" />
<text x="79.30000000000001" y="538.2" font-size="8.2" fill="#1e1e1e">5</text>
<rect x="93.2" y="533.3" width="4.4" height="4.6" fill="#6caa48" />
<text x="100.60000000000001" y="538.2" font-size="8.2" fill="#1e1e1e" textLength="8.60" lengthAdjust="spacingAndGlyphs">10</text>
<rect x="118.7" y="533.3" width="4.4" height="4.6" fill="#532768" />
<text x="126.10000000000001" y="538.2" font-size="8.2" fill="#1e1e1e" textLength="43.40" lengthAdjust="spacingAndGlyphs">20 IL6 ng/ml</text>
<text x="189" y="358.7" font-size="11.6" text-anchor="middle" font-weight="bold" fill="#000" >H</text>
<line x1="233.5" y1="366.9" x2="233.5" y2="477" stroke="#1c1c1c" stroke-width="1"/>
<line x1="230.5" y1="476.5" x2="233.5" y2="476.5" stroke="#1c1c1c" stroke-width="1"/>
<text x="227.6" y="479.4" font-size="8.6" text-anchor="end" fill="#1e1e1e" textLength="4.45" lengthAdjust="spacingAndGlyphs" >0</text>
<line x1="230.5" y1="455.14" x2="233.5" y2="455.14" stroke="#1c1c1c" stroke-width="1"/>
<text x="227.6" y="458.4" font-size="8.6" text-anchor="end" fill="#1e1e1e" textLength="8.90" lengthAdjust="spacingAndGlyphs" >20</text>
<line x1="230.5" y1="433.78" x2="233.5" y2="433.78" stroke="#1c1c1c" stroke-width="1"/>
<text x="227.6" y="437.4" font-size="8.6" text-anchor="end" fill="#1e1e1e" textLength="8.90" lengthAdjust="spacingAndGlyphs" >40</text>
<line x1="230.5" y1="412.42" x2="233.5" y2="412.42" stroke="#1c1c1c" stroke-width="1"/>
<text x="227.6" y="415.4" font-size="8.6" text-anchor="end" fill="#1e1e1e" textLength="8.90" lengthAdjust="spacingAndGlyphs" >60</text>
<line x1="230.5" y1="391.06" x2="233.5" y2="391.06" stroke="#1c1c1c" stroke-width="1"/>
<text x="227.6" y="394.4" font-size="8.6" text-anchor="end" fill="#1e1e1e" textLength="8.90" lengthAdjust="spacingAndGlyphs" >80</text>
<line x1="230.5" y1="369.7" x2="233.5" y2="369.7" stroke="#1c1c1c" stroke-width="1"/>
<text x="227.6" y="373.4" font-size="8.6" text-anchor="end" fill="#1e1e1e" textLength="13.34" lengthAdjust="spacingAndGlyphs" >100</text>
<line x1="233" y1="476.5" x2="346.5" y2="476.5" stroke="#1c1c1c" stroke-width="1"/>
<rect x="242.6" y="451.2" width="8.0" height="24.80000000000001" fill="#1f3a72" />
<rect x="243.2" y="451.8" width="6.8" height="24.20000000000001" fill="#2d4b86" />
<line x1="246.6" y1="445.4" x2="246.6" y2="452.7" stroke="#222" stroke-width="1.0"/>
<polygon points="245.29999999999998,445.09999999999997 247.9,445.09999999999997 247.1,446.59999999999997 246.1,446.59999999999997" fill="#222"/>
<rect x="253" y="438.5" width="8" height="37.5" fill="#93001f" />
<rect x="253.6" y="439.1" width="6.8" height="36.9" fill="#a6002b" />
<line x1="257" y1="436.3" x2="257" y2="440.0" stroke="#222" stroke-width="1.0"/>
<polygon points="255.7,436.0 258.3,436.0 257.5,437.5 256.5,437.5" fill="#222"/>
<rect x="263.5" y="466.9" width="8.0" height="9.100000000000023" fill="#5c9b3a" />
<rect x="264.1" y="467.5" width="6.8" height="8.500000000000023" fill="#6caa48" />
<line x1="267.5" y1="463.2" x2="267.5" y2="468.4" stroke="#222" stroke-width="1.0"/>
<polygon points="266.2,462.9 268.8,462.9 268.0,464.4 267.0,464.4" fill="#222"/>
<rect x="274.1" y="465.1" width="8.0" height="10.899999999999977" fill="#441b59" />
<rect x="274.70000000000005" y="465.70000000000005" width="6.8" height="10.299999999999978" fill="#532768" />
<line x1="278.1" y1="463.2" x2="278.1" y2="466.6" stroke="#222" stroke-width="1.0"/>
<polygon points="276.8,462.9 279.40000000000003,462.9 278.6,464.4 277.6,464.4" fill="#222"/>
<rect x="297.7" y="395.2" width="8.0" height="80.80000000000001" fill="#1f3a72" />
<rect x="298.3" y="395.8" width="6.8" height="80.20000000000002" fill="#2d4b86" />
<line x1="301.7" y1="389.2" x2="301.7" y2="396.7" stroke="#222" stroke-width="1.0"/>
<polygon points="300.4,388.9 303.0,388.9 302.2,390.4 301.2,390.4" fill="#222"/>
<rect x="308.1" y="407.5" width="8.0" height="68.5" fill="#93001f" />
<rect x="308.70000000000005" y="408.1" width="6.8" height="67.9" fill="#a6002b" />
<line x1="312.1" y1="405.5" x2="312.1" y2="409.0" stroke="#222" stroke-width="1.0"/>
<polygon points="310.8,405.2 313.40000000000003,405.2 312.6,406.7 311.6,406.7" fill="#222"/>
<rect x="318.8" y="380" width="8.0" height="96" fill="#5c9b3a" />
<rect x="319.40000000000003" y="380.6" width="6.8" height="95.4" fill="#6caa48" />
<line x1="322.8" y1="376.6" x2="322.8" y2="381.5" stroke="#222" stroke-width="1.0"/>
<polygon points="321.5,376.3 324.1,376.3 323.3,377.8 322.3,377.8" fill="#222"/>
<rect x="329.2" y="381.7" width="8.0" height="94.30000000000001" fill="#441b59" />
<rect x="329.8" y="382.3" width="6.8" height="93.70000000000002" fill="#532768" />
<line x1="333.2" y1="379.4" x2="333.2" y2="383.2" stroke="#222" stroke-width="1.0"/>
<polygon points="331.9,379.09999999999997 334.5,379.09999999999997 333.7,380.59999999999997 332.7,380.59999999999997" fill="#222"/>
<line x1="246.6" y1="419.8" x2="256.5" y2="419.8" stroke="#333" stroke-width="1.1"/>
<circle cx="251.5" cy="415.9" r="1.2" fill="#222"/>
<line x1="256.3" y1="409.2" x2="268" y2="409.2" stroke="#333" stroke-width="1.1"/>
<circle cx="258.6" cy="405.4" r="1.2" fill="#222"/>
<circle cx="262.0" cy="405.4" r="1.2" fill="#222"/>
<circle cx="265.40000000000003" cy="405.4" r="1.2" fill="#222"/>
<line x1="301.6" y1="379.4" x2="311.6" y2="379.4" stroke="#333" stroke-width="1.1"/>
<circle cx="306.6" cy="375.2" r="1.2" fill="#222"/>
<line x1="311.4" y1="368.4" x2="322.7" y2="368.4" stroke="#333" stroke-width="1.1"/>
<circle cx="313.8" cy="364.7" r="1.2" fill="#222"/>
<circle cx="317.2" cy="364.7" r="1.2" fill="#222"/>
<circle cx="320.6" cy="364.7" r="1.2" fill="#222"/>
<text transform="translate(208.6,421) rotate(-90) scale(0.7604,1)" x="0" y="0" font-size="10.6" text-anchor="middle" fill="#1e1e1e">% ter119<tspan dy="-3.18" font-size="5.8">+</tspan><tspan dy="3.18"> cells</tspan></text>
<text transform="translate(267.5,484.4) rotate(-45)" x="0" y="0" font-size="8.6" text-anchor="end" fill="#1e1e1e" textLength="55.50" lengthAdjust="spacingAndGlyphs">Ter119+CD71+</text>
<text transform="translate(324.5,485) rotate(-45)" x="0" y="0" font-size="8.6" text-anchor="end" fill="#1e1e1e" textLength="53.50" lengthAdjust="spacingAndGlyphs">Ter119+CD71-</text>
<rect x="244.2" y="533.3" width="4.5" height="4.6" fill="#2d4b86" />
<text x="251.6" y="538.2" font-size="8.2" text-anchor="start" fill="#1e1e1e" >WT</text>
<rect x="273" y="533.3" width="4.5" height="4.6" fill="#a6002b" />
<text x="280.4" y="538.2" font-size="8.2" text-anchor="start" fill="#1e1e1e" >A</text>
<rect x="295.1" y="533.3" width="4.5" height="4.6" fill="#6caa48" />
<text x="302.5" y="538.2" font-size="8.2" text-anchor="start" fill="#1e1e1e" >AC</text>
<rect x="323" y="533.3" width="4.5" height="4.6" fill="#532768" />
<text x="330.4" y="538.2" font-size="8.2" text-anchor="start" fill="#1e1e1e" >C</text>
<rect x="363" y="351.3" width="2.4" height="7.8" fill="#000"/>
<line x1="400.5" y1="368.1" x2="400.5" y2="477" stroke="#1c1c1c" stroke-width="1"/>
<line x1="397.5" y1="476.5" x2="400.5" y2="476.5" stroke="#1c1c1c" stroke-width="1"/>
<text x="394.8" y="479.4" font-size="8.6" text-anchor="end" fill="#1e1e1e" textLength="4.45" lengthAdjust="spacingAndGlyphs" >0</text>
<line x1="397.5" y1="450.5" x2="400.5" y2="450.5" stroke="#1c1c1c" stroke-width="1"/>
<text x="394.8" y="453.4" font-size="8.6" text-anchor="end" fill="#1e1e1e" textLength="11.12" lengthAdjust="spacingAndGlyphs" >0.5</text>
<line x1="397.5" y1="424.2" x2="400.5" y2="424.2" stroke="#1c1c1c" stroke-width="1"/>
<text x="394.8" y="427.4" font-size="8.6" text-anchor="end" fill="#1e1e1e" textLength="4.45" lengthAdjust="spacingAndGlyphs" >1</text>
<line x1="397.5" y1="397.5" x2="400.5" y2="397.5" stroke="#1c1c1c" stroke-width="1"/>
<text x="394.8" y="401.4" font-size="8.6" text-anchor="end" fill="#1e1e1e" textLength="11.12" lengthAdjust="spacingAndGlyphs" >1.5</text>
<line x1="397.5" y1="371" x2="400.5" y2="371" stroke="#1c1c1c" stroke-width="1"/>
<text x="394.8" y="374.4" font-size="8.6" text-anchor="end" fill="#1e1e1e" textLength="4.45" lengthAdjust="spacingAndGlyphs" >2</text>
<line x1="400" y1="476.5" x2="484" y2="476.5" stroke="#1c1c1c" stroke-width="1"/>
<rect x="407.6" y="424.2" width="6.599999999999966" height="51.80000000000001" fill="#1f3a72" />
<rect x="408.20000000000005" y="424.8" width="5.399999999999966" height="51.20000000000001" fill="#2d4b86" />
<line x1="410.9" y1="423" x2="410.9" y2="425.2" stroke="#222" stroke-width="1.0"/>
<polygon points="409.9,422.7 411.9,422.7 411.4,424.2 410.4,424.2" fill="#222"/>
<rect x="428.6" y="381.2" width="6.5" height="94.80000000000001" fill="#93001f" />
<rect x="429.20000000000005" y="381.8" width="5.3" height="94.20000000000002" fill="#a6002b" />
<line x1="431.85" y1="376.2" x2="431.85" y2="382.2" stroke="#222" stroke-width="1.0"/>
<polygon points="430.85,375.9 432.85,375.9 432.35,377.4 431.35,377.4" fill="#222"/>
<rect x="449.7" y="447.6" width="6.5" height="28.399999999999977" fill="#5c9b3a" />
<rect x="450.3" y="448.20000000000005" width="5.3" height="27.799999999999976" fill="#6caa48" />
<line x1="452.95" y1="446.6" x2="452.95" y2="448.6" stroke="#222" stroke-width="1.0"/>
<polygon points="451.95,446.3 453.95,446.3 453.45,447.8 452.45,447.8" fill="#222"/>
<rect x="470.4" y="447.6" width="6.600000000000023" height="28.399999999999977" fill="#441b59" />
<rect x="471.0" y="448.20000000000005" width="5.400000000000023" height="27.799999999999976" fill="#532768" />
<line x1="473.7" y1="446.8" x2="473.7" y2="448.6" stroke="#222" stroke-width="1.0"/>
<polygon points="472.7,446.5 474.7,446.5 474.2,448.0 473.2,448.0" fill="#222"/>
<line x1="410" y1="369.5" x2="430.8" y2="369.5" stroke="#333" stroke-width="1.1"/>
<circle cx="416.90000000000003" cy="365.8" r="1.2" fill="#222"/>
<circle cx="420.3" cy="365.8" r="1.2" fill="#222"/>
<circle cx="423.70000000000005" cy="365.8" r="1.2" fill="#222"/>
<line x1="435.1" y1="369.5" x2="455.8" y2="369.5" stroke="#333" stroke-width="1.1"/>
<circle cx="442.0" cy="365.8" r="1.2" fill="#222"/>
<circle cx="445.4" cy="365.8" r="1.2" fill="#222"/>
<circle cx="448.8" cy="365.8" r="1.2" fill="#222"/>
<text x="410.6" y="487" font-size="8.4" text-anchor="middle" fill="#1e1e1e" >WT</text>
<text x="431.6" y="487" font-size="8.4" text-anchor="middle" fill="#1e1e1e" >A</text>
<text x="452.5" y="487" font-size="8.4" text-anchor="middle" fill="#1e1e1e" >AC</text>
<text x="473.6" y="487" font-size="8.4" text-anchor="middle" fill="#1e1e1e" >C</text>
<text class="rt" transform="translate(377.7,422.4) rotate(-90)" x="0" y="0" font-size="9.2" text-anchor="middle" fill="#1e1e1e" textLength="88.00" lengthAdjust="spacingAndGlyphs">Relative IL6 concentration</text>
<rect x="0.5" y="0.5" width="519" height="546" fill="none" stroke="#000" stroke-width="1.3"/>
</svg></body></html>
